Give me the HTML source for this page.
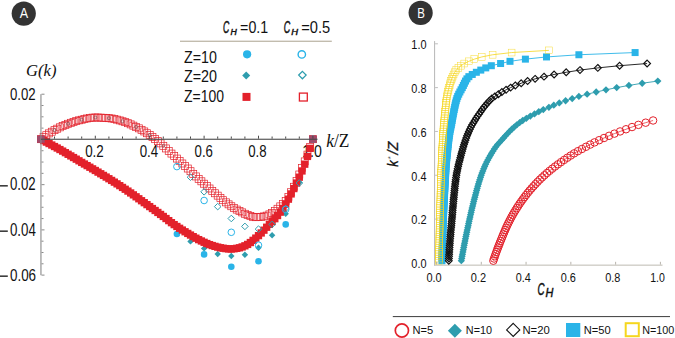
<!DOCTYPE html><html><head><meta charset="utf-8"><style>html,body{margin:0;padding:0;background:#fff;}svg{display:block;}</style></head><body><svg width="675" height="338" viewBox="0 0 675 338"><circle cx="23.75" cy="13.6" r="12.1" fill="#333"/>
<circle cx="420.65" cy="12.85" r="12.1" fill="#333"/>
<rect x="180" y="40.6" width="151.8" height="1.4" fill="#c2bcae"/>
<circle cx="247.1" cy="54.3" r="4.1" fill="#2ab4e8"/>
<circle cx="301.8" cy="54.4" r="3.7" fill="none" stroke="#2ab4e8" stroke-width="1.4"/>
<path d="M246.20 71.40L250.20 75.40L246.20 79.40L242.20 75.40Z" fill="#2e9dae"/>
<path d="M302.40 71.40L306.10 75.10L302.40 78.80L298.70 75.10Z" fill="none" stroke="#2e9dae" stroke-width="1.3"/>
<rect x="242.5" y="92.9" width="8" height="8" fill="#e3212b"/>
<rect x="299.4" y="93.1" width="7.9" height="7.9" fill="none" stroke="#e3212b" stroke-width="1.3"/>
<rect x="-0.5" y="185.20" width="8.3" height="1.3" fill="#111"/>
<rect x="-0.5" y="230.50" width="8.3" height="1.3" fill="#111"/>
<rect x="-0.5" y="275.50" width="8.3" height="1.3" fill="#111"/>
<text transform="matrix(0.12576 0 0 0.15217 19.800 18.400)" font-family="Liberation Sans" font-style="normal" font-weight="normal" font-size="100" fill="#fff">A</text>
<text transform="matrix(0.11509 0 0 0.14058 417.179 17.800)" font-family="Liberation Sans" font-style="normal" font-weight="normal" font-size="100" fill="#fff">B</text>
<text transform="matrix(0.08657 0 0 0.16901 222.881 32.631)" font-family="Liberation Sans" font-style="italic" font-weight="normal" font-size="100" fill="#111" stroke="#111" stroke-width="0.45" vector-effect="non-scaling-stroke">C</text>
<text transform="matrix(0.08696 0 0 0.09855 230.539 34.700)" font-family="Liberation Sans" font-style="italic" font-weight="normal" font-size="100" fill="#111" stroke="#111" stroke-width="0.45" vector-effect="non-scaling-stroke">H</text>
<text transform="matrix(0.14225 0 0 0.16901 240.089 32.631)" font-family="Liberation Sans" font-style="normal" font-weight="normal" font-size="100" fill="#111">=0.1</text>
<text transform="matrix(0.08955 0 0 0.16901 283.863 32.631)" font-family="Liberation Sans" font-style="italic" font-weight="normal" font-size="100" fill="#111" stroke="#111" stroke-width="0.45" vector-effect="non-scaling-stroke">C</text>
<text transform="matrix(0.09420 0 0 0.09420 291.217 34.700)" font-family="Liberation Sans" font-style="italic" font-weight="normal" font-size="100" fill="#111" stroke="#111" stroke-width="0.45" vector-effect="non-scaling-stroke">H</text>
<text transform="matrix(0.14681 0 0 0.16901 301.266 32.631)" font-family="Liberation Sans" font-style="normal" font-weight="normal" font-size="100" fill="#111">=0.5</text>
<text transform="matrix(0.14241 0 0 0.16197 183.973 62.538)" font-family="Liberation Sans" font-style="normal" font-weight="normal" font-size="100" fill="#111">Z=10</text>
<text transform="matrix(0.14330 0 0 0.16056 183.970 82.439)" font-family="Liberation Sans" font-style="normal" font-weight="normal" font-size="100" fill="#111">Z=20</text>
<text transform="matrix(0.13978 0 0 0.15775 183.981 102.142)" font-family="Liberation Sans" font-style="normal" font-weight="normal" font-size="100" fill="#111">Z=100</text>
<text transform="matrix(0.16609 0 0 0.16222 26.103 76.093)" font-family="Liberation Serif" font-style="italic" font-weight="normal" font-size="100" fill="#111">G(k)</text>
<text transform="matrix(0.13226 0 0 0.16761 9.971 99.532)" font-family="Liberation Sans" font-style="normal" font-weight="normal" font-size="100" fill="#111">0.02</text>
<text transform="matrix(0.13226 0 0 0.17465 9.971 190.425)" font-family="Liberation Sans" font-style="normal" font-weight="normal" font-size="100" fill="#111">0.02</text>
<text transform="matrix(0.13298 0 0 0.17606 9.968 235.724)" font-family="Liberation Sans" font-style="normal" font-weight="normal" font-size="100" fill="#111">0.04</text>
<text transform="matrix(0.13441 0 0 0.16901 9.962 280.731)" font-family="Liberation Sans" font-style="normal" font-weight="normal" font-size="100" fill="#111">0.06</text>
<text transform="matrix(0.13385 0 0 0.16901 85.165 156.731)" font-family="Liberation Sans" font-style="normal" font-weight="normal" font-size="100" fill="#111">0.2</text>
<text transform="matrix(0.13333 0 0 0.16901 139.667 156.731)" font-family="Liberation Sans" font-style="normal" font-weight="normal" font-size="100" fill="#111">0.4</text>
<text transform="matrix(0.13206 0 0 0.16901 194.572 156.731)" font-family="Liberation Sans" font-style="normal" font-weight="normal" font-size="100" fill="#111">0.6</text>
<text transform="matrix(0.13206 0 0 0.16901 248.172 156.731)" font-family="Liberation Sans" font-style="normal" font-weight="normal" font-size="100" fill="#111">0.8</text>
<text transform="matrix(0.14173 0 0 0.16901 302.166 156.731)" font-family="Liberation Sans" font-style="normal" font-weight="normal" font-size="100" fill="#111">1.0</text>
<text transform="matrix(0.17360 0 0 0.19286 326.279 147.007)" font-family="Liberation Serif" font-style="normal" font-weight="normal" font-size="100" fill="#111"><tspan font-style="italic">k</tspan>/Z</text>
<rect x="37.40" y="135.70" width="7.0" height="7.0" fill="none" stroke="#e3212b" stroke-width="0.7"/>
<rect x="40.12" y="133.64" width="7.0" height="7.0" fill="none" stroke="#e3212b" stroke-width="0.7"/>
<rect x="42.84" y="131.70" width="7.0" height="7.0" fill="none" stroke="#e3212b" stroke-width="0.7"/>
<rect x="45.56" y="129.89" width="7.0" height="7.0" fill="none" stroke="#e3212b" stroke-width="0.7"/>
<rect x="48.28" y="128.22" width="7.0" height="7.0" fill="none" stroke="#e3212b" stroke-width="0.7"/>
<rect x="51.00" y="126.65" width="7.0" height="7.0" fill="none" stroke="#e3212b" stroke-width="0.7"/>
<rect x="53.72" y="125.18" width="7.0" height="7.0" fill="none" stroke="#e3212b" stroke-width="0.7"/>
<rect x="56.44" y="123.83" width="7.0" height="7.0" fill="none" stroke="#e3212b" stroke-width="0.7"/>
<rect x="59.16" y="122.57" width="7.0" height="7.0" fill="none" stroke="#e3212b" stroke-width="0.7"/>
<rect x="61.88" y="121.38" width="7.0" height="7.0" fill="none" stroke="#e3212b" stroke-width="0.7"/>
<rect x="64.60" y="120.29" width="7.0" height="7.0" fill="none" stroke="#e3212b" stroke-width="0.7"/>
<rect x="67.32" y="119.31" width="7.0" height="7.0" fill="none" stroke="#e3212b" stroke-width="0.7"/>
<rect x="70.04" y="118.40" width="7.0" height="7.0" fill="none" stroke="#e3212b" stroke-width="0.7"/>
<rect x="72.76" y="117.57" width="7.0" height="7.0" fill="none" stroke="#e3212b" stroke-width="0.7"/>
<rect x="75.48" y="116.84" width="7.0" height="7.0" fill="none" stroke="#e3212b" stroke-width="0.7"/>
<rect x="78.20" y="116.21" width="7.0" height="7.0" fill="none" stroke="#e3212b" stroke-width="0.7"/>
<rect x="80.92" y="115.56" width="7.0" height="7.0" fill="none" stroke="#e3212b" stroke-width="0.7"/>
<rect x="83.64" y="114.95" width="7.0" height="7.0" fill="none" stroke="#e3212b" stroke-width="0.7"/>
<rect x="86.36" y="114.45" width="7.0" height="7.0" fill="none" stroke="#e3212b" stroke-width="0.7"/>
<rect x="89.08" y="114.11" width="7.0" height="7.0" fill="none" stroke="#e3212b" stroke-width="0.7"/>
<rect x="91.80" y="114.00" width="7.0" height="7.0" fill="none" stroke="#e3212b" stroke-width="0.7"/>
<rect x="94.52" y="114.04" width="7.0" height="7.0" fill="none" stroke="#e3212b" stroke-width="0.7"/>
<rect x="97.24" y="114.14" width="7.0" height="7.0" fill="none" stroke="#e3212b" stroke-width="0.7"/>
<rect x="99.96" y="114.29" width="7.0" height="7.0" fill="none" stroke="#e3212b" stroke-width="0.7"/>
<rect x="102.68" y="114.48" width="7.0" height="7.0" fill="none" stroke="#e3212b" stroke-width="0.7"/>
<rect x="105.40" y="114.70" width="7.0" height="7.0" fill="none" stroke="#e3212b" stroke-width="0.7"/>
<rect x="108.12" y="114.99" width="7.0" height="7.0" fill="none" stroke="#e3212b" stroke-width="0.7"/>
<rect x="110.84" y="115.47" width="7.0" height="7.0" fill="none" stroke="#e3212b" stroke-width="0.7"/>
<rect x="113.56" y="116.14" width="7.0" height="7.0" fill="none" stroke="#e3212b" stroke-width="0.7"/>
<rect x="116.28" y="116.92" width="7.0" height="7.0" fill="none" stroke="#e3212b" stroke-width="0.7"/>
<rect x="119.00" y="117.78" width="7.0" height="7.0" fill="none" stroke="#e3212b" stroke-width="0.7"/>
<rect x="121.72" y="118.67" width="7.0" height="7.0" fill="none" stroke="#e3212b" stroke-width="0.7"/>
<rect x="124.44" y="119.69" width="7.0" height="7.0" fill="none" stroke="#e3212b" stroke-width="0.7"/>
<rect x="127.16" y="120.88" width="7.0" height="7.0" fill="none" stroke="#e3212b" stroke-width="0.7"/>
<rect x="129.88" y="122.16" width="7.0" height="7.0" fill="none" stroke="#e3212b" stroke-width="0.7"/>
<rect x="132.60" y="123.46" width="7.0" height="7.0" fill="none" stroke="#e3212b" stroke-width="0.7"/>
<rect x="135.32" y="124.84" width="7.0" height="7.0" fill="none" stroke="#e3212b" stroke-width="0.7"/>
<rect x="138.04" y="126.33" width="7.0" height="7.0" fill="none" stroke="#e3212b" stroke-width="0.7"/>
<rect x="140.76" y="127.95" width="7.0" height="7.0" fill="none" stroke="#e3212b" stroke-width="0.7"/>
<rect x="143.48" y="129.74" width="7.0" height="7.0" fill="none" stroke="#e3212b" stroke-width="0.7"/>
<rect x="146.20" y="131.64" width="7.0" height="7.0" fill="none" stroke="#e3212b" stroke-width="0.7"/>
<rect x="148.92" y="133.59" width="7.0" height="7.0" fill="none" stroke="#e3212b" stroke-width="0.7"/>
<rect x="151.64" y="135.58" width="7.0" height="7.0" fill="none" stroke="#e3212b" stroke-width="0.7"/>
<rect x="154.36" y="137.65" width="7.0" height="7.0" fill="none" stroke="#e3212b" stroke-width="0.7"/>
<rect x="157.08" y="139.87" width="7.0" height="7.0" fill="none" stroke="#e3212b" stroke-width="0.7"/>
<rect x="159.80" y="142.32" width="7.0" height="7.0" fill="none" stroke="#e3212b" stroke-width="0.7"/>
<rect x="162.52" y="144.94" width="7.0" height="7.0" fill="none" stroke="#e3212b" stroke-width="0.7"/>
<rect x="165.24" y="147.55" width="7.0" height="7.0" fill="none" stroke="#e3212b" stroke-width="0.7"/>
<rect x="167.96" y="150.07" width="7.0" height="7.0" fill="none" stroke="#e3212b" stroke-width="0.7"/>
<rect x="170.68" y="152.58" width="7.0" height="7.0" fill="none" stroke="#e3212b" stroke-width="0.7"/>
<rect x="173.40" y="155.07" width="7.0" height="7.0" fill="none" stroke="#e3212b" stroke-width="0.7"/>
<rect x="176.12" y="157.54" width="7.0" height="7.0" fill="none" stroke="#e3212b" stroke-width="0.7"/>
<rect x="178.84" y="159.99" width="7.0" height="7.0" fill="none" stroke="#e3212b" stroke-width="0.7"/>
<rect x="181.56" y="162.47" width="7.0" height="7.0" fill="none" stroke="#e3212b" stroke-width="0.7"/>
<rect x="184.28" y="165.03" width="7.0" height="7.0" fill="none" stroke="#e3212b" stroke-width="0.7"/>
<rect x="187.00" y="167.71" width="7.0" height="7.0" fill="none" stroke="#e3212b" stroke-width="0.7"/>
<rect x="189.72" y="170.38" width="7.0" height="7.0" fill="none" stroke="#e3212b" stroke-width="0.7"/>
<rect x="192.44" y="172.93" width="7.0" height="7.0" fill="none" stroke="#e3212b" stroke-width="0.7"/>
<rect x="195.16" y="175.38" width="7.0" height="7.0" fill="none" stroke="#e3212b" stroke-width="0.7"/>
<rect x="197.88" y="177.80" width="7.0" height="7.0" fill="none" stroke="#e3212b" stroke-width="0.7"/>
<rect x="200.60" y="180.21" width="7.0" height="7.0" fill="none" stroke="#e3212b" stroke-width="0.7"/>
<rect x="203.32" y="182.60" width="7.0" height="7.0" fill="none" stroke="#e3212b" stroke-width="0.7"/>
<rect x="206.04" y="184.98" width="7.0" height="7.0" fill="none" stroke="#e3212b" stroke-width="0.7"/>
<rect x="208.76" y="187.35" width="7.0" height="7.0" fill="none" stroke="#e3212b" stroke-width="0.7"/>
<rect x="211.48" y="189.75" width="7.0" height="7.0" fill="none" stroke="#e3212b" stroke-width="0.7"/>
<rect x="214.20" y="192.14" width="7.0" height="7.0" fill="none" stroke="#e3212b" stroke-width="0.7"/>
<rect x="216.92" y="194.45" width="7.0" height="7.0" fill="none" stroke="#e3212b" stroke-width="0.7"/>
<rect x="219.64" y="196.70" width="7.0" height="7.0" fill="none" stroke="#e3212b" stroke-width="0.7"/>
<rect x="222.36" y="198.85" width="7.0" height="7.0" fill="none" stroke="#e3212b" stroke-width="0.7"/>
<rect x="225.08" y="200.85" width="7.0" height="7.0" fill="none" stroke="#e3212b" stroke-width="0.7"/>
<rect x="227.80" y="202.75" width="7.0" height="7.0" fill="none" stroke="#e3212b" stroke-width="0.7"/>
<rect x="230.52" y="204.51" width="7.0" height="7.0" fill="none" stroke="#e3212b" stroke-width="0.7"/>
<rect x="233.24" y="206.09" width="7.0" height="7.0" fill="none" stroke="#e3212b" stroke-width="0.7"/>
<rect x="235.96" y="207.53" width="7.0" height="7.0" fill="none" stroke="#e3212b" stroke-width="0.7"/>
<rect x="238.68" y="208.89" width="7.0" height="7.0" fill="none" stroke="#e3212b" stroke-width="0.7"/>
<rect x="241.40" y="210.29" width="7.0" height="7.0" fill="none" stroke="#e3212b" stroke-width="0.7"/>
<rect x="244.12" y="211.56" width="7.0" height="7.0" fill="none" stroke="#e3212b" stroke-width="0.7"/>
<rect x="246.84" y="212.51" width="7.0" height="7.0" fill="none" stroke="#e3212b" stroke-width="0.7"/>
<rect x="249.56" y="213.32" width="7.0" height="7.0" fill="none" stroke="#e3212b" stroke-width="0.7"/>
<rect x="252.28" y="213.70" width="7.0" height="7.0" fill="none" stroke="#e3212b" stroke-width="0.7"/>
<rect x="255.00" y="213.60" width="7.0" height="7.0" fill="none" stroke="#e3212b" stroke-width="0.7"/>
<rect x="257.72" y="213.32" width="7.0" height="7.0" fill="none" stroke="#e3212b" stroke-width="0.7"/>
<rect x="260.44" y="212.91" width="7.0" height="7.0" fill="none" stroke="#e3212b" stroke-width="0.7"/>
<rect x="263.16" y="212.14" width="7.0" height="7.0" fill="none" stroke="#e3212b" stroke-width="0.7"/>
<rect x="265.88" y="210.89" width="7.0" height="7.0" fill="none" stroke="#e3212b" stroke-width="0.7"/>
<rect x="268.60" y="209.40" width="7.0" height="7.0" fill="none" stroke="#e3212b" stroke-width="0.7"/>
<rect x="271.32" y="207.42" width="7.0" height="7.0" fill="none" stroke="#e3212b" stroke-width="0.7"/>
<rect x="274.04" y="205.27" width="7.0" height="7.0" fill="none" stroke="#e3212b" stroke-width="0.7"/>
<rect x="276.76" y="202.90" width="7.0" height="7.0" fill="none" stroke="#e3212b" stroke-width="0.7"/>
<rect x="279.48" y="200.40" width="7.0" height="7.0" fill="none" stroke="#e3212b" stroke-width="0.7"/>
<rect x="282.20" y="197.50" width="7.0" height="7.0" fill="none" stroke="#e3212b" stroke-width="0.7"/>
<rect x="284.92" y="193.47" width="7.0" height="7.0" fill="none" stroke="#e3212b" stroke-width="0.7"/>
<rect x="287.64" y="188.73" width="7.0" height="7.0" fill="none" stroke="#e3212b" stroke-width="0.7"/>
<rect x="290.36" y="183.28" width="7.0" height="7.0" fill="none" stroke="#e3212b" stroke-width="0.7"/>
<rect x="293.08" y="177.54" width="7.0" height="7.0" fill="none" stroke="#e3212b" stroke-width="0.7"/>
<rect x="295.80" y="171.00" width="7.0" height="7.0" fill="none" stroke="#e3212b" stroke-width="0.7"/>
<rect x="298.52" y="164.45" width="7.0" height="7.0" fill="none" stroke="#e3212b" stroke-width="0.7"/>
<rect x="301.24" y="157.90" width="7.0" height="7.0" fill="none" stroke="#e3212b" stroke-width="0.7"/>
<rect x="303.96" y="151.11" width="7.0" height="7.0" fill="none" stroke="#e3212b" stroke-width="0.7"/>
<rect x="306.68" y="143.56" width="7.0" height="7.0" fill="none" stroke="#e3212b" stroke-width="0.7"/>
<rect x="309.40" y="135.70" width="7.0" height="7.0" fill="none" stroke="#e3212b" stroke-width="0.7"/>
<path d="M54.50 143.62L57.70 146.82L54.50 150.02L51.30 146.82Z" fill="#2e9dae"/>
<path d="M68.10 151.40L71.30 154.60L68.10 157.80L64.90 154.60Z" fill="#2e9dae"/>
<path d="M81.70 159.51L84.90 162.71L81.70 165.91L78.50 162.71Z" fill="#2e9dae"/>
<path d="M95.30 167.58L98.50 170.78L95.30 173.98L92.10 170.78Z" fill="#2e9dae"/>
<path d="M108.90 175.83L112.10 179.03L108.90 182.23L105.70 179.03Z" fill="#2e9dae"/>
<path d="M122.50 184.53L125.70 187.73L122.50 190.93L119.30 187.73Z" fill="#2e9dae"/>
<path d="M136.10 193.91L139.30 197.11L136.10 200.31L132.90 197.11Z" fill="#2e9dae"/>
<path d="M149.70 203.68L152.90 206.88L149.70 210.08L146.50 206.88Z" fill="#2e9dae"/>
<path d="M163.30 213.75L166.50 216.95L163.30 220.15L160.10 216.95Z" fill="#2e9dae"/>
<path d="M176.90 224.28L180.10 227.48L176.90 230.68L173.70 227.48Z" fill="#2e9dae"/>
<path d="M190.50 238.20L193.70 241.40L190.50 244.60L187.30 241.40Z" fill="#2e9dae"/>
<path d="M204.10 245.20L207.30 248.40L204.10 251.60L200.90 248.40Z" fill="#2e9dae"/>
<path d="M217.70 250.80L220.90 254.00L217.70 257.20L214.50 254.00Z" fill="#2e9dae"/>
<path d="M231.30 252.80L234.50 256.00L231.30 259.20L228.10 256.00Z" fill="#2e9dae"/>
<path d="M244.90 251.60L248.10 254.80L244.90 258.00L241.70 254.80Z" fill="#2e9dae"/>
<path d="M258.50 244.60L261.70 247.80L258.50 251.00L255.30 247.80Z" fill="#2e9dae"/>
<path d="M272.10 232.00L275.30 235.20L272.10 238.40L268.90 235.20Z" fill="#2e9dae"/>
<path d="M285.70 210.60L288.90 213.80L285.70 217.00L282.50 213.80Z" fill="#2e9dae"/>
<path d="M299.30 179.20L302.50 182.40L299.30 185.60L296.10 182.40Z" fill="#2e9dae"/>
<path d="M312.90 136.00L316.10 139.20L312.90 142.40L309.70 139.20Z" fill="#2e9dae"/>
<circle cx="68.10" cy="154.80" r="3.3" fill="#2ab4e8"/>
<circle cx="95.30" cy="170.98" r="3.3" fill="#2ab4e8"/>
<circle cx="122.50" cy="187.93" r="3.3" fill="#2ab4e8"/>
<circle cx="149.70" cy="207.08" r="3.3" fill="#2ab4e8"/>
<circle cx="176.90" cy="234.00" r="3.3" fill="#2ab4e8"/>
<circle cx="204.10" cy="254.40" r="3.3" fill="#2ab4e8"/>
<circle cx="231.30" cy="266.80" r="3.3" fill="#2ab4e8"/>
<circle cx="258.50" cy="261.30" r="3.3" fill="#2ab4e8"/>
<circle cx="285.70" cy="224.40" r="3.3" fill="#2ab4e8"/>
<circle cx="312.90" cy="139.20" r="3.3" fill="#2ab4e8"/>
<rect x="37.25" y="135.55" width="7.3" height="7.3" fill="#e3212b"/>
<rect x="39.97" y="136.98" width="7.3" height="7.3" fill="#e3212b"/>
<rect x="42.69" y="138.44" width="7.3" height="7.3" fill="#e3212b"/>
<rect x="45.41" y="139.90" width="7.3" height="7.3" fill="#e3212b"/>
<rect x="48.13" y="141.38" width="7.3" height="7.3" fill="#e3212b"/>
<rect x="50.85" y="142.87" width="7.3" height="7.3" fill="#e3212b"/>
<rect x="53.57" y="144.38" width="7.3" height="7.3" fill="#e3212b"/>
<rect x="56.29" y="145.90" width="7.3" height="7.3" fill="#e3212b"/>
<rect x="59.01" y="147.46" width="7.3" height="7.3" fill="#e3212b"/>
<rect x="61.73" y="149.04" width="7.3" height="7.3" fill="#e3212b"/>
<rect x="64.45" y="150.65" width="7.3" height="7.3" fill="#e3212b"/>
<rect x="67.17" y="152.27" width="7.3" height="7.3" fill="#e3212b"/>
<rect x="69.89" y="153.89" width="7.3" height="7.3" fill="#e3212b"/>
<rect x="72.61" y="155.52" width="7.3" height="7.3" fill="#e3212b"/>
<rect x="75.33" y="157.14" width="7.3" height="7.3" fill="#e3212b"/>
<rect x="78.05" y="158.76" width="7.3" height="7.3" fill="#e3212b"/>
<rect x="80.77" y="160.36" width="7.3" height="7.3" fill="#e3212b"/>
<rect x="83.49" y="161.97" width="7.3" height="7.3" fill="#e3212b"/>
<rect x="86.21" y="163.58" width="7.3" height="7.3" fill="#e3212b"/>
<rect x="88.93" y="165.20" width="7.3" height="7.3" fill="#e3212b"/>
<rect x="91.65" y="166.83" width="7.3" height="7.3" fill="#e3212b"/>
<rect x="94.37" y="168.47" width="7.3" height="7.3" fill="#e3212b"/>
<rect x="97.09" y="170.11" width="7.3" height="7.3" fill="#e3212b"/>
<rect x="99.81" y="171.76" width="7.3" height="7.3" fill="#e3212b"/>
<rect x="102.53" y="173.41" width="7.3" height="7.3" fill="#e3212b"/>
<rect x="105.25" y="175.08" width="7.3" height="7.3" fill="#e3212b"/>
<rect x="107.97" y="176.77" width="7.3" height="7.3" fill="#e3212b"/>
<rect x="110.69" y="178.48" width="7.3" height="7.3" fill="#e3212b"/>
<rect x="113.41" y="180.22" width="7.3" height="7.3" fill="#e3212b"/>
<rect x="116.13" y="181.99" width="7.3" height="7.3" fill="#e3212b"/>
<rect x="118.85" y="183.78" width="7.3" height="7.3" fill="#e3212b"/>
<rect x="121.57" y="185.60" width="7.3" height="7.3" fill="#e3212b"/>
<rect x="124.29" y="187.44" width="7.3" height="7.3" fill="#e3212b"/>
<rect x="127.01" y="189.31" width="7.3" height="7.3" fill="#e3212b"/>
<rect x="129.73" y="191.21" width="7.3" height="7.3" fill="#e3212b"/>
<rect x="132.45" y="193.16" width="7.3" height="7.3" fill="#e3212b"/>
<rect x="135.17" y="195.12" width="7.3" height="7.3" fill="#e3212b"/>
<rect x="137.89" y="197.08" width="7.3" height="7.3" fill="#e3212b"/>
<rect x="140.61" y="199.04" width="7.3" height="7.3" fill="#e3212b"/>
<rect x="143.33" y="200.99" width="7.3" height="7.3" fill="#e3212b"/>
<rect x="146.05" y="202.93" width="7.3" height="7.3" fill="#e3212b"/>
<rect x="148.77" y="204.88" width="7.3" height="7.3" fill="#e3212b"/>
<rect x="151.49" y="206.84" width="7.3" height="7.3" fill="#e3212b"/>
<rect x="154.21" y="208.81" width="7.3" height="7.3" fill="#e3212b"/>
<rect x="156.93" y="210.79" width="7.3" height="7.3" fill="#e3212b"/>
<rect x="159.65" y="212.80" width="7.3" height="7.3" fill="#e3212b"/>
<rect x="162.37" y="214.87" width="7.3" height="7.3" fill="#e3212b"/>
<rect x="165.09" y="216.97" width="7.3" height="7.3" fill="#e3212b"/>
<rect x="167.81" y="219.02" width="7.3" height="7.3" fill="#e3212b"/>
<rect x="170.53" y="220.97" width="7.3" height="7.3" fill="#e3212b"/>
<rect x="173.25" y="222.83" width="7.3" height="7.3" fill="#e3212b"/>
<rect x="175.97" y="224.64" width="7.3" height="7.3" fill="#e3212b"/>
<rect x="178.69" y="226.40" width="7.3" height="7.3" fill="#e3212b"/>
<rect x="181.41" y="228.11" width="7.3" height="7.3" fill="#e3212b"/>
<rect x="184.13" y="229.77" width="7.3" height="7.3" fill="#e3212b"/>
<rect x="186.85" y="231.40" width="7.3" height="7.3" fill="#e3212b"/>
<rect x="189.57" y="233.00" width="7.3" height="7.3" fill="#e3212b"/>
<rect x="192.29" y="234.53" width="7.3" height="7.3" fill="#e3212b"/>
<rect x="195.01" y="235.98" width="7.3" height="7.3" fill="#e3212b"/>
<rect x="197.73" y="237.33" width="7.3" height="7.3" fill="#e3212b"/>
<rect x="200.45" y="238.64" width="7.3" height="7.3" fill="#e3212b"/>
<rect x="203.17" y="239.87" width="7.3" height="7.3" fill="#e3212b"/>
<rect x="205.89" y="240.97" width="7.3" height="7.3" fill="#e3212b"/>
<rect x="208.61" y="241.89" width="7.3" height="7.3" fill="#e3212b"/>
<rect x="211.33" y="242.72" width="7.3" height="7.3" fill="#e3212b"/>
<rect x="214.05" y="243.47" width="7.3" height="7.3" fill="#e3212b"/>
<rect x="216.77" y="244.10" width="7.3" height="7.3" fill="#e3212b"/>
<rect x="219.49" y="244.57" width="7.3" height="7.3" fill="#e3212b"/>
<rect x="222.21" y="244.96" width="7.3" height="7.3" fill="#e3212b"/>
<rect x="224.93" y="245.26" width="7.3" height="7.3" fill="#e3212b"/>
<rect x="227.65" y="245.34" width="7.3" height="7.3" fill="#e3212b"/>
<rect x="230.37" y="245.12" width="7.3" height="7.3" fill="#e3212b"/>
<rect x="233.09" y="244.68" width="7.3" height="7.3" fill="#e3212b"/>
<rect x="235.81" y="244.14" width="7.3" height="7.3" fill="#e3212b"/>
<rect x="238.53" y="243.29" width="7.3" height="7.3" fill="#e3212b"/>
<rect x="241.25" y="242.16" width="7.3" height="7.3" fill="#e3212b"/>
<rect x="243.97" y="240.77" width="7.3" height="7.3" fill="#e3212b"/>
<rect x="246.69" y="238.88" width="7.3" height="7.3" fill="#e3212b"/>
<rect x="249.41" y="236.71" width="7.3" height="7.3" fill="#e3212b"/>
<rect x="252.13" y="234.45" width="7.3" height="7.3" fill="#e3212b"/>
<rect x="254.85" y="231.96" width="7.3" height="7.3" fill="#e3212b"/>
<rect x="257.57" y="229.33" width="7.3" height="7.3" fill="#e3212b"/>
<rect x="260.29" y="226.53" width="7.3" height="7.3" fill="#e3212b"/>
<rect x="263.01" y="223.58" width="7.3" height="7.3" fill="#e3212b"/>
<rect x="265.73" y="220.72" width="7.3" height="7.3" fill="#e3212b"/>
<rect x="268.45" y="217.94" width="7.3" height="7.3" fill="#e3212b"/>
<rect x="271.17" y="215.04" width="7.3" height="7.3" fill="#e3212b"/>
<rect x="273.89" y="211.92" width="7.3" height="7.3" fill="#e3212b"/>
<rect x="276.61" y="208.51" width="7.3" height="7.3" fill="#e3212b"/>
<rect x="279.33" y="204.76" width="7.3" height="7.3" fill="#e3212b"/>
<rect x="282.05" y="200.55" width="7.3" height="7.3" fill="#e3212b"/>
<rect x="284.77" y="195.51" width="7.3" height="7.3" fill="#e3212b"/>
<rect x="287.49" y="190.27" width="7.3" height="7.3" fill="#e3212b"/>
<rect x="290.21" y="184.93" width="7.3" height="7.3" fill="#e3212b"/>
<rect x="292.93" y="179.39" width="7.3" height="7.3" fill="#e3212b"/>
<rect x="295.65" y="173.55" width="7.3" height="7.3" fill="#e3212b"/>
<rect x="298.37" y="167.30" width="7.3" height="7.3" fill="#e3212b"/>
<rect x="301.09" y="160.54" width="7.3" height="7.3" fill="#e3212b"/>
<rect x="303.81" y="152.77" width="7.3" height="7.3" fill="#e3212b"/>
<rect x="306.53" y="144.71" width="7.3" height="7.3" fill="#e3212b"/>
<rect x="309.25" y="135.55" width="7.3" height="7.3" fill="#e3212b"/>
<path d="M190.50 173.90L193.80 177.20L190.50 180.50L187.20 177.20Z" fill="none" stroke="#2e9dae" stroke-width="1.0"/>
<path d="M204.10 188.50L207.40 191.80L204.10 195.10L200.80 191.80Z" fill="none" stroke="#2e9dae" stroke-width="1.0"/>
<path d="M217.70 203.30L221.00 206.60L217.70 209.90L214.40 206.60Z" fill="none" stroke="#2e9dae" stroke-width="1.0"/>
<path d="M231.30 215.20L234.60 218.50L231.30 221.80L228.00 218.50Z" fill="none" stroke="#2e9dae" stroke-width="1.0"/>
<path d="M244.90 223.10L248.20 226.40L244.90 229.70L241.60 226.40Z" fill="none" stroke="#2e9dae" stroke-width="1.0"/>
<path d="M258.50 225.80L261.80 229.10L258.50 232.40L255.20 229.10Z" fill="none" stroke="#2e9dae" stroke-width="1.0"/>
<path d="M272.10 221.10L275.40 224.40L272.10 227.70L268.80 224.40Z" fill="none" stroke="#2e9dae" stroke-width="1.0"/>
<path d="M285.70 205.20L289.00 208.50L285.70 211.80L282.40 208.50Z" fill="none" stroke="#2e9dae" stroke-width="1.0"/>
<path d="M299.30 179.70L302.60 183.00L299.30 186.30L296.00 183.00Z" fill="none" stroke="#2e9dae" stroke-width="1.0"/>
<path d="M312.90 135.90L316.20 139.20L312.90 142.50L309.60 139.20Z" fill="none" stroke="#2e9dae" stroke-width="1.0"/>
<circle cx="176.90" cy="166.60" r="3.3" fill="none" stroke="#2ab4e8" stroke-width="1"/>
<circle cx="204.10" cy="200.50" r="3.3" fill="none" stroke="#2ab4e8" stroke-width="1"/>
<circle cx="231.30" cy="232.30" r="3.3" fill="none" stroke="#2ab4e8" stroke-width="1"/>
<circle cx="258.50" cy="245.20" r="3.3" fill="none" stroke="#2ab4e8" stroke-width="1"/>
<circle cx="285.70" cy="209.40" r="3.3" fill="none" stroke="#2ab4e8" stroke-width="1"/>
<circle cx="312.90" cy="139.20" r="3.3" fill="none" stroke="#2ab4e8" stroke-width="1"/>
<circle cx="68.10" cy="123.79" r="1.5" fill="none" stroke="#8a5a60" stroke-width="0.8"/>
<circle cx="95.30" cy="117.50" r="1.5" fill="none" stroke="#8a5a60" stroke-width="0.8"/>
<circle cx="122.50" cy="121.28" r="1.5" fill="none" stroke="#8a5a60" stroke-width="0.8"/>
<circle cx="149.70" cy="135.14" r="1.5" fill="none" stroke="#8a5a60" stroke-width="0.8"/>
<circle cx="54.50" cy="130.15" r="1.5" fill="none" stroke="#8a5a60" stroke-width="0.8"/>
<circle cx="81.70" cy="119.71" r="1.5" fill="none" stroke="#8a5a60" stroke-width="0.8"/>
<circle cx="108.90" cy="118.20" r="1.5" fill="none" stroke="#8a5a60" stroke-width="0.8"/>
<circle cx="136.10" cy="126.96" r="1.5" fill="none" stroke="#8a5a60" stroke-width="0.8"/>
<circle cx="163.30" cy="145.82" r="1.5" fill="none" stroke="#8a5a60" stroke-width="0.8"/>
<rect x="37.10" y="135.60" width="7.6" height="7.2" fill="#a04a6a"/>
<rect x="309.10" y="135.60" width="7.6" height="7.2" fill="#a04a6a"/>
<rect x="40.4" y="94.2" width="1.1" height="181" fill="#8a8a8a"/>
<rect x="41.5" y="93.70" width="3.0" height="1" fill="#8a8a8a"/>
<rect x="41.5" y="105.01" width="2.0" height="1" fill="#8a8a8a"/>
<rect x="41.5" y="116.31" width="2.0" height="1" fill="#8a8a8a"/>
<rect x="41.5" y="127.62" width="2.0" height="1" fill="#8a8a8a"/>
<rect x="41.5" y="138.93" width="3.0" height="1" fill="#8a8a8a"/>
<rect x="41.5" y="150.23" width="2.0" height="1" fill="#8a8a8a"/>
<rect x="41.5" y="161.54" width="2.0" height="1" fill="#8a8a8a"/>
<rect x="41.5" y="172.84" width="2.0" height="1" fill="#8a8a8a"/>
<rect x="41.5" y="184.15" width="3.0" height="1" fill="#8a8a8a"/>
<rect x="41.5" y="195.46" width="2.0" height="1" fill="#8a8a8a"/>
<rect x="41.5" y="206.76" width="2.0" height="1" fill="#8a8a8a"/>
<rect x="41.5" y="218.07" width="2.0" height="1" fill="#8a8a8a"/>
<rect x="41.5" y="229.38" width="3.0" height="1" fill="#8a8a8a"/>
<rect x="41.5" y="240.68" width="2.0" height="1" fill="#8a8a8a"/>
<rect x="41.5" y="251.99" width="2.0" height="1" fill="#8a8a8a"/>
<rect x="41.5" y="263.29" width="2.0" height="1" fill="#8a8a8a"/>
<rect x="41.5" y="274.60" width="3.0" height="1" fill="#8a8a8a"/>
<rect x="40.9" y="138.7" width="276.6" height="1.1" fill="#4a4a4a"/>
<rect x="54.00" y="136.50" width="1" height="2.2" fill="#4a4a4a"/>
<rect x="67.60" y="136.50" width="1" height="2.2" fill="#4a4a4a"/>
<rect x="81.20" y="136.50" width="1" height="2.2" fill="#4a4a4a"/>
<rect x="94.80" y="135.70" width="1" height="3.0" fill="#4a4a4a"/>
<rect x="108.40" y="136.50" width="1" height="2.2" fill="#4a4a4a"/>
<rect x="122.00" y="136.50" width="1" height="2.2" fill="#4a4a4a"/>
<rect x="135.60" y="136.50" width="1" height="2.2" fill="#4a4a4a"/>
<rect x="149.20" y="135.70" width="1" height="3.0" fill="#4a4a4a"/>
<rect x="162.80" y="136.50" width="1" height="2.2" fill="#4a4a4a"/>
<rect x="176.40" y="136.50" width="1" height="2.2" fill="#4a4a4a"/>
<rect x="190.00" y="136.50" width="1" height="2.2" fill="#4a4a4a"/>
<rect x="203.60" y="135.70" width="1" height="3.0" fill="#4a4a4a"/>
<rect x="217.20" y="136.50" width="1" height="2.2" fill="#4a4a4a"/>
<rect x="230.80" y="136.50" width="1" height="2.2" fill="#4a4a4a"/>
<rect x="244.40" y="136.50" width="1" height="2.2" fill="#4a4a4a"/>
<rect x="258.00" y="135.70" width="1" height="3.0" fill="#4a4a4a"/>
<rect x="271.60" y="136.50" width="1" height="2.2" fill="#4a4a4a"/>
<rect x="285.20" y="136.50" width="1" height="2.2" fill="#4a4a4a"/>
<rect x="298.80" y="136.50" width="1" height="2.2" fill="#4a4a4a"/>
<rect x="312.40" y="135.70" width="1" height="3.0" fill="#4a4a4a"/>
<rect x="434.0" y="41.1" width="1.1" height="224.4" fill="#bdbdbd"/>
<rect x="435.1" y="262.40" width="2.8" height="1" fill="#bdbdbd"/>
<rect x="435.1" y="218.58" width="2.8" height="1" fill="#bdbdbd"/>
<rect x="435.1" y="174.76" width="2.8" height="1" fill="#bdbdbd"/>
<rect x="435.1" y="130.94" width="2.8" height="1" fill="#bdbdbd"/>
<rect x="435.1" y="87.12" width="2.8" height="1" fill="#bdbdbd"/>
<rect x="435.1" y="43.30" width="2.8" height="1" fill="#bdbdbd"/>
<rect x="434.0" y="264.6" width="228.5" height="1.1" fill="#c4c0b8"/>
<rect x="436.00" y="261.8" width="1" height="2.8" fill="#b8b4ac"/>
<rect x="480.78" y="261.8" width="1" height="2.8" fill="#b8b4ac"/>
<rect x="525.56" y="261.8" width="1" height="2.8" fill="#b8b4ac"/>
<rect x="570.34" y="261.8" width="1" height="2.8" fill="#b8b4ac"/>
<rect x="615.12" y="261.8" width="1" height="2.8" fill="#b8b4ac"/>
<rect x="659.90" y="261.8" width="1" height="2.8" fill="#b8b4ac"/>
<polyline points="441.99,260.71 442.04,258.52 442.10,256.33 442.15,254.14 442.21,251.94 442.27,249.75 442.33,247.56 442.40,245.37 442.46,243.18 442.53,240.99 442.60,238.80 442.68,236.61 442.76,234.42 442.84,232.23 442.92,230.03 443.00,227.84 443.09,225.65 443.18,223.46 443.26,221.27 443.35,219.08 443.45,216.89 443.54,214.70 443.64,212.51 443.74,210.32 443.84,208.12 443.94,205.93 444.04,203.74 444.15,201.55 444.26,199.36 444.37,197.17 444.48,194.98 444.59,192.79 444.71,190.60 444.83,188.41 444.95,186.21 445.07,184.02 445.19,181.83 445.32,179.64 445.45,177.45 445.57,175.26 445.69,173.07 445.82,170.88 445.95,168.69 446.09,166.50 446.25,164.30 446.44,162.11 446.64,159.92 446.86,157.73 447.09,155.54 447.32,153.35 447.55,151.16 447.77,148.97 448.00,146.78 448.24,144.59 448.49,142.39 448.74,140.20 449.02,138.01 449.31,135.82 449.63,133.63 449.98,131.44 450.41,129.25 450.88,127.06 451.33,124.87 451.74,122.68 452.13,120.48 452.52,118.29 452.92,116.10 453.32,113.91 453.75,111.72 454.20,109.53 454.66,107.34 455.13,105.15 455.64,102.96 456.21,100.77 456.87,98.57 457.71,96.38 458.73,94.19 459.87,92.00 461.07,89.81 462.27,87.62 463.39,85.43 464.41,83.24 465.53,81.05 466.93,78.86 468.87,76.66 472.25,74.47 476.35,72.28 480.79,70.09 485.77,67.90 491.33,65.71 500.60,63.52 510.00,61.33 525.40,59.14 546.50,56.95 578.90,54.75 635.10,52.56" fill="none" stroke="#2ab4e8" stroke-width="0.9"/>
<rect x="438.49" y="257.21" width="7" height="7" fill="#2ab4e8"/>
<rect x="438.54" y="255.02" width="7" height="7" fill="#2ab4e8"/>
<rect x="438.60" y="252.83" width="7" height="7" fill="#2ab4e8"/>
<rect x="438.65" y="250.64" width="7" height="7" fill="#2ab4e8"/>
<rect x="438.71" y="248.44" width="7" height="7" fill="#2ab4e8"/>
<rect x="438.77" y="246.25" width="7" height="7" fill="#2ab4e8"/>
<rect x="438.83" y="244.06" width="7" height="7" fill="#2ab4e8"/>
<rect x="438.90" y="241.87" width="7" height="7" fill="#2ab4e8"/>
<rect x="438.96" y="239.68" width="7" height="7" fill="#2ab4e8"/>
<rect x="439.03" y="237.49" width="7" height="7" fill="#2ab4e8"/>
<rect x="439.10" y="235.30" width="7" height="7" fill="#2ab4e8"/>
<rect x="439.18" y="233.11" width="7" height="7" fill="#2ab4e8"/>
<rect x="439.26" y="230.92" width="7" height="7" fill="#2ab4e8"/>
<rect x="439.34" y="228.73" width="7" height="7" fill="#2ab4e8"/>
<rect x="439.42" y="226.53" width="7" height="7" fill="#2ab4e8"/>
<rect x="439.50" y="224.34" width="7" height="7" fill="#2ab4e8"/>
<rect x="439.59" y="222.15" width="7" height="7" fill="#2ab4e8"/>
<rect x="439.68" y="219.96" width="7" height="7" fill="#2ab4e8"/>
<rect x="439.76" y="217.77" width="7" height="7" fill="#2ab4e8"/>
<rect x="439.85" y="215.58" width="7" height="7" fill="#2ab4e8"/>
<rect x="439.95" y="213.39" width="7" height="7" fill="#2ab4e8"/>
<rect x="440.04" y="211.20" width="7" height="7" fill="#2ab4e8"/>
<rect x="440.14" y="209.01" width="7" height="7" fill="#2ab4e8"/>
<rect x="440.24" y="206.82" width="7" height="7" fill="#2ab4e8"/>
<rect x="440.34" y="204.62" width="7" height="7" fill="#2ab4e8"/>
<rect x="440.44" y="202.43" width="7" height="7" fill="#2ab4e8"/>
<rect x="440.54" y="200.24" width="7" height="7" fill="#2ab4e8"/>
<rect x="440.65" y="198.05" width="7" height="7" fill="#2ab4e8"/>
<rect x="440.76" y="195.86" width="7" height="7" fill="#2ab4e8"/>
<rect x="440.87" y="193.67" width="7" height="7" fill="#2ab4e8"/>
<rect x="440.98" y="191.48" width="7" height="7" fill="#2ab4e8"/>
<rect x="441.09" y="189.29" width="7" height="7" fill="#2ab4e8"/>
<rect x="441.21" y="187.10" width="7" height="7" fill="#2ab4e8"/>
<rect x="441.33" y="184.91" width="7" height="7" fill="#2ab4e8"/>
<rect x="441.45" y="182.71" width="7" height="7" fill="#2ab4e8"/>
<rect x="441.57" y="180.52" width="7" height="7" fill="#2ab4e8"/>
<rect x="441.69" y="178.33" width="7" height="7" fill="#2ab4e8"/>
<rect x="441.82" y="176.14" width="7" height="7" fill="#2ab4e8"/>
<rect x="441.95" y="173.95" width="7" height="7" fill="#2ab4e8"/>
<rect x="442.07" y="171.76" width="7" height="7" fill="#2ab4e8"/>
<rect x="442.19" y="169.57" width="7" height="7" fill="#2ab4e8"/>
<rect x="442.32" y="167.38" width="7" height="7" fill="#2ab4e8"/>
<rect x="442.45" y="165.19" width="7" height="7" fill="#2ab4e8"/>
<rect x="442.59" y="163.00" width="7" height="7" fill="#2ab4e8"/>
<rect x="442.75" y="160.80" width="7" height="7" fill="#2ab4e8"/>
<rect x="442.94" y="158.61" width="7" height="7" fill="#2ab4e8"/>
<rect x="443.14" y="156.42" width="7" height="7" fill="#2ab4e8"/>
<rect x="443.36" y="154.23" width="7" height="7" fill="#2ab4e8"/>
<rect x="443.59" y="152.04" width="7" height="7" fill="#2ab4e8"/>
<rect x="443.82" y="149.85" width="7" height="7" fill="#2ab4e8"/>
<rect x="444.05" y="147.66" width="7" height="7" fill="#2ab4e8"/>
<rect x="444.27" y="145.47" width="7" height="7" fill="#2ab4e8"/>
<rect x="444.50" y="143.28" width="7" height="7" fill="#2ab4e8"/>
<rect x="444.74" y="141.09" width="7" height="7" fill="#2ab4e8"/>
<rect x="444.99" y="138.89" width="7" height="7" fill="#2ab4e8"/>
<rect x="445.24" y="136.70" width="7" height="7" fill="#2ab4e8"/>
<rect x="445.52" y="134.51" width="7" height="7" fill="#2ab4e8"/>
<rect x="445.81" y="132.32" width="7" height="7" fill="#2ab4e8"/>
<rect x="446.13" y="130.13" width="7" height="7" fill="#2ab4e8"/>
<rect x="446.48" y="127.94" width="7" height="7" fill="#2ab4e8"/>
<rect x="446.91" y="125.75" width="7" height="7" fill="#2ab4e8"/>
<rect x="447.38" y="123.56" width="7" height="7" fill="#2ab4e8"/>
<rect x="447.83" y="121.37" width="7" height="7" fill="#2ab4e8"/>
<rect x="448.24" y="119.18" width="7" height="7" fill="#2ab4e8"/>
<rect x="448.63" y="116.98" width="7" height="7" fill="#2ab4e8"/>
<rect x="449.02" y="114.79" width="7" height="7" fill="#2ab4e8"/>
<rect x="449.42" y="112.60" width="7" height="7" fill="#2ab4e8"/>
<rect x="449.82" y="110.41" width="7" height="7" fill="#2ab4e8"/>
<rect x="450.25" y="108.22" width="7" height="7" fill="#2ab4e8"/>
<rect x="450.70" y="106.03" width="7" height="7" fill="#2ab4e8"/>
<rect x="451.16" y="103.84" width="7" height="7" fill="#2ab4e8"/>
<rect x="451.63" y="101.65" width="7" height="7" fill="#2ab4e8"/>
<rect x="452.14" y="99.46" width="7" height="7" fill="#2ab4e8"/>
<rect x="452.71" y="97.27" width="7" height="7" fill="#2ab4e8"/>
<rect x="453.37" y="95.07" width="7" height="7" fill="#2ab4e8"/>
<rect x="454.21" y="92.88" width="7" height="7" fill="#2ab4e8"/>
<rect x="455.23" y="90.69" width="7" height="7" fill="#2ab4e8"/>
<rect x="456.37" y="88.50" width="7" height="7" fill="#2ab4e8"/>
<rect x="457.57" y="86.31" width="7" height="7" fill="#2ab4e8"/>
<rect x="458.77" y="84.12" width="7" height="7" fill="#2ab4e8"/>
<rect x="459.89" y="81.93" width="7" height="7" fill="#2ab4e8"/>
<rect x="460.91" y="79.74" width="7" height="7" fill="#2ab4e8"/>
<rect x="462.03" y="77.55" width="7" height="7" fill="#2ab4e8"/>
<rect x="463.43" y="75.36" width="7" height="7" fill="#2ab4e8"/>
<rect x="465.37" y="73.16" width="7" height="7" fill="#2ab4e8"/>
<rect x="468.75" y="70.97" width="7" height="7" fill="#2ab4e8"/>
<rect x="472.85" y="68.78" width="7" height="7" fill="#2ab4e8"/>
<rect x="477.29" y="66.59" width="7" height="7" fill="#2ab4e8"/>
<rect x="482.27" y="64.40" width="7" height="7" fill="#2ab4e8"/>
<rect x="487.83" y="62.21" width="7" height="7" fill="#2ab4e8"/>
<rect x="497.10" y="60.02" width="7" height="7" fill="#2ab4e8"/>
<rect x="506.50" y="57.83" width="7" height="7" fill="#2ab4e8"/>
<rect x="521.90" y="55.64" width="7" height="7" fill="#2ab4e8"/>
<rect x="543.00" y="53.45" width="7" height="7" fill="#2ab4e8"/>
<rect x="575.40" y="51.25" width="7" height="7" fill="#2ab4e8"/>
<rect x="631.60" y="49.06" width="7" height="7" fill="#2ab4e8"/>
<polyline points="439.00,260.71 439.03,258.52 439.06,256.33 439.09,254.14 439.12,251.94 439.16,249.75 439.20,247.56 439.24,245.37 439.28,243.18 439.32,240.99 439.36,238.80 439.41,236.61 439.46,234.42 439.51,232.23 439.56,230.03 439.61,227.84 439.67,225.65 439.72,223.46 439.78,221.27 439.83,219.08 439.89,216.89 439.95,214.70 440.01,212.51 440.07,210.32 440.13,208.12 440.19,205.93 440.25,203.74 440.32,201.55 440.38,199.36 440.44,197.17 440.49,194.98 440.55,192.79 440.60,190.60 440.66,188.41 440.71,186.21 440.77,184.02 440.83,181.83 440.90,179.64 440.97,177.45 441.04,175.26 441.13,173.07 441.23,170.88 441.33,168.69 441.43,166.50 441.53,164.30 441.63,162.11 441.74,159.92 441.84,157.73 441.95,155.54 442.06,153.35 442.17,151.16 442.28,148.97 442.39,146.78 442.50,144.59 442.61,142.39 442.73,140.20 442.86,138.01 442.99,135.82 443.13,133.63 443.27,131.44 443.44,129.25 443.62,127.06 443.81,124.87 444.02,122.68 444.23,120.48 444.46,118.29 444.69,116.10 444.93,113.91 445.17,111.72 445.40,109.53 445.62,107.34 445.84,105.15 446.07,102.96 446.33,100.77 446.63,98.57 447.00,96.38 447.43,94.19 447.92,92.00 448.45,89.81 449.03,87.62 449.64,85.43 450.27,83.24 450.95,81.05 451.71,78.86 452.58,76.66 453.58,74.47 454.75,72.28 456.30,70.09 458.40,67.90 461.00,65.71 464.27,63.52 468.80,61.33 474.30,59.14 481.70,56.95 492.60,54.75 511.60,52.56 548.90,50.37" fill="none" stroke="#f5d61e" stroke-width="0.8"/>
<rect x="435.60" y="257.31" width="6.8" height="6.8" fill="none" stroke="#f5d61e" stroke-width="0.45"/>
<rect x="435.63" y="255.12" width="6.8" height="6.8" fill="none" stroke="#f5d61e" stroke-width="0.45"/>
<rect x="435.66" y="252.93" width="6.8" height="6.8" fill="none" stroke="#f5d61e" stroke-width="0.45"/>
<rect x="435.69" y="250.74" width="6.8" height="6.8" fill="none" stroke="#f5d61e" stroke-width="0.45"/>
<rect x="435.72" y="248.54" width="6.8" height="6.8" fill="none" stroke="#f5d61e" stroke-width="0.45"/>
<rect x="435.76" y="246.35" width="6.8" height="6.8" fill="none" stroke="#f5d61e" stroke-width="0.45"/>
<rect x="435.80" y="244.16" width="6.8" height="6.8" fill="none" stroke="#f5d61e" stroke-width="0.45"/>
<rect x="435.84" y="241.97" width="6.8" height="6.8" fill="none" stroke="#f5d61e" stroke-width="0.45"/>
<rect x="435.88" y="239.78" width="6.8" height="6.8" fill="none" stroke="#f5d61e" stroke-width="0.45"/>
<rect x="435.92" y="237.59" width="6.8" height="6.8" fill="none" stroke="#f5d61e" stroke-width="0.45"/>
<rect x="435.96" y="235.40" width="6.8" height="6.8" fill="none" stroke="#f5d61e" stroke-width="0.45"/>
<rect x="436.01" y="233.21" width="6.8" height="6.8" fill="none" stroke="#f5d61e" stroke-width="0.45"/>
<rect x="436.06" y="231.02" width="6.8" height="6.8" fill="none" stroke="#f5d61e" stroke-width="0.45"/>
<rect x="436.11" y="228.83" width="6.8" height="6.8" fill="none" stroke="#f5d61e" stroke-width="0.45"/>
<rect x="436.16" y="226.63" width="6.8" height="6.8" fill="none" stroke="#f5d61e" stroke-width="0.45"/>
<rect x="436.21" y="224.44" width="6.8" height="6.8" fill="none" stroke="#f5d61e" stroke-width="0.45"/>
<rect x="436.27" y="222.25" width="6.8" height="6.8" fill="none" stroke="#f5d61e" stroke-width="0.45"/>
<rect x="436.32" y="220.06" width="6.8" height="6.8" fill="none" stroke="#f5d61e" stroke-width="0.45"/>
<rect x="436.38" y="217.87" width="6.8" height="6.8" fill="none" stroke="#f5d61e" stroke-width="0.45"/>
<rect x="436.43" y="215.68" width="6.8" height="6.8" fill="none" stroke="#f5d61e" stroke-width="0.45"/>
<rect x="436.49" y="213.49" width="6.8" height="6.8" fill="none" stroke="#f5d61e" stroke-width="0.45"/>
<rect x="436.55" y="211.30" width="6.8" height="6.8" fill="none" stroke="#f5d61e" stroke-width="0.45"/>
<rect x="436.61" y="209.11" width="6.8" height="6.8" fill="none" stroke="#f5d61e" stroke-width="0.45"/>
<rect x="436.67" y="206.92" width="6.8" height="6.8" fill="none" stroke="#f5d61e" stroke-width="0.45"/>
<rect x="436.73" y="204.72" width="6.8" height="6.8" fill="none" stroke="#f5d61e" stroke-width="0.45"/>
<rect x="436.79" y="202.53" width="6.8" height="6.8" fill="none" stroke="#f5d61e" stroke-width="0.45"/>
<rect x="436.85" y="200.34" width="6.8" height="6.8" fill="none" stroke="#f5d61e" stroke-width="0.45"/>
<rect x="436.92" y="198.15" width="6.8" height="6.8" fill="none" stroke="#f5d61e" stroke-width="0.45"/>
<rect x="436.98" y="195.96" width="6.8" height="6.8" fill="none" stroke="#f5d61e" stroke-width="0.45"/>
<rect x="437.04" y="193.77" width="6.8" height="6.8" fill="none" stroke="#f5d61e" stroke-width="0.45"/>
<rect x="437.09" y="191.58" width="6.8" height="6.8" fill="none" stroke="#f5d61e" stroke-width="0.45"/>
<rect x="437.15" y="189.39" width="6.8" height="6.8" fill="none" stroke="#f5d61e" stroke-width="0.45"/>
<rect x="437.20" y="187.20" width="6.8" height="6.8" fill="none" stroke="#f5d61e" stroke-width="0.45"/>
<rect x="437.26" y="185.01" width="6.8" height="6.8" fill="none" stroke="#f5d61e" stroke-width="0.45"/>
<rect x="437.31" y="182.81" width="6.8" height="6.8" fill="none" stroke="#f5d61e" stroke-width="0.45"/>
<rect x="437.37" y="180.62" width="6.8" height="6.8" fill="none" stroke="#f5d61e" stroke-width="0.45"/>
<rect x="437.43" y="178.43" width="6.8" height="6.8" fill="none" stroke="#f5d61e" stroke-width="0.45"/>
<rect x="437.50" y="176.24" width="6.8" height="6.8" fill="none" stroke="#f5d61e" stroke-width="0.45"/>
<rect x="437.57" y="174.05" width="6.8" height="6.8" fill="none" stroke="#f5d61e" stroke-width="0.45"/>
<rect x="437.64" y="171.86" width="6.8" height="6.8" fill="none" stroke="#f5d61e" stroke-width="0.45"/>
<rect x="437.73" y="169.67" width="6.8" height="6.8" fill="none" stroke="#f5d61e" stroke-width="0.45"/>
<rect x="437.83" y="167.48" width="6.8" height="6.8" fill="none" stroke="#f5d61e" stroke-width="0.45"/>
<rect x="437.93" y="165.29" width="6.8" height="6.8" fill="none" stroke="#f5d61e" stroke-width="0.45"/>
<rect x="438.03" y="163.10" width="6.8" height="6.8" fill="none" stroke="#f5d61e" stroke-width="0.45"/>
<rect x="438.13" y="160.90" width="6.8" height="6.8" fill="none" stroke="#f5d61e" stroke-width="0.45"/>
<rect x="438.23" y="158.71" width="6.8" height="6.8" fill="none" stroke="#f5d61e" stroke-width="0.45"/>
<rect x="438.34" y="156.52" width="6.8" height="6.8" fill="none" stroke="#f5d61e" stroke-width="0.45"/>
<rect x="438.44" y="154.33" width="6.8" height="6.8" fill="none" stroke="#f5d61e" stroke-width="0.45"/>
<rect x="438.55" y="152.14" width="6.8" height="6.8" fill="none" stroke="#f5d61e" stroke-width="0.45"/>
<rect x="438.66" y="149.95" width="6.8" height="6.8" fill="none" stroke="#f5d61e" stroke-width="0.45"/>
<rect x="438.77" y="147.76" width="6.8" height="6.8" fill="none" stroke="#f5d61e" stroke-width="0.45"/>
<rect x="438.88" y="145.57" width="6.8" height="6.8" fill="none" stroke="#f5d61e" stroke-width="0.45"/>
<rect x="438.99" y="143.38" width="6.8" height="6.8" fill="none" stroke="#f5d61e" stroke-width="0.45"/>
<rect x="439.10" y="141.19" width="6.8" height="6.8" fill="none" stroke="#f5d61e" stroke-width="0.45"/>
<rect x="439.21" y="138.99" width="6.8" height="6.8" fill="none" stroke="#f5d61e" stroke-width="0.45"/>
<rect x="439.33" y="136.80" width="6.8" height="6.8" fill="none" stroke="#f5d61e" stroke-width="0.45"/>
<rect x="439.46" y="134.61" width="6.8" height="6.8" fill="none" stroke="#f5d61e" stroke-width="0.45"/>
<rect x="439.59" y="132.42" width="6.8" height="6.8" fill="none" stroke="#f5d61e" stroke-width="0.45"/>
<rect x="439.73" y="130.23" width="6.8" height="6.8" fill="none" stroke="#f5d61e" stroke-width="0.45"/>
<rect x="439.87" y="128.04" width="6.8" height="6.8" fill="none" stroke="#f5d61e" stroke-width="0.45"/>
<rect x="440.04" y="125.85" width="6.8" height="6.8" fill="none" stroke="#f5d61e" stroke-width="0.45"/>
<rect x="440.22" y="123.66" width="6.8" height="6.8" fill="none" stroke="#f5d61e" stroke-width="0.45"/>
<rect x="440.41" y="121.47" width="6.8" height="6.8" fill="none" stroke="#f5d61e" stroke-width="0.45"/>
<rect x="440.62" y="119.28" width="6.8" height="6.8" fill="none" stroke="#f5d61e" stroke-width="0.45"/>
<rect x="440.83" y="117.08" width="6.8" height="6.8" fill="none" stroke="#f5d61e" stroke-width="0.45"/>
<rect x="441.06" y="114.89" width="6.8" height="6.8" fill="none" stroke="#f5d61e" stroke-width="0.45"/>
<rect x="441.29" y="112.70" width="6.8" height="6.8" fill="none" stroke="#f5d61e" stroke-width="0.45"/>
<rect x="441.53" y="110.51" width="6.8" height="6.8" fill="none" stroke="#f5d61e" stroke-width="0.45"/>
<rect x="441.77" y="108.32" width="6.8" height="6.8" fill="none" stroke="#f5d61e" stroke-width="0.45"/>
<rect x="442.00" y="106.13" width="6.8" height="6.8" fill="none" stroke="#f5d61e" stroke-width="0.45"/>
<rect x="442.22" y="103.94" width="6.8" height="6.8" fill="none" stroke="#f5d61e" stroke-width="0.45"/>
<rect x="442.44" y="101.75" width="6.8" height="6.8" fill="none" stroke="#f5d61e" stroke-width="0.45"/>
<rect x="442.67" y="99.56" width="6.8" height="6.8" fill="none" stroke="#f5d61e" stroke-width="0.45"/>
<rect x="442.93" y="97.37" width="6.8" height="6.8" fill="none" stroke="#f5d61e" stroke-width="0.45"/>
<rect x="443.23" y="95.17" width="6.8" height="6.8" fill="none" stroke="#f5d61e" stroke-width="0.45"/>
<rect x="443.60" y="92.98" width="6.8" height="6.8" fill="none" stroke="#f5d61e" stroke-width="0.45"/>
<rect x="444.03" y="90.79" width="6.8" height="6.8" fill="none" stroke="#f5d61e" stroke-width="0.45"/>
<rect x="444.52" y="88.60" width="6.8" height="6.8" fill="none" stroke="#f5d61e" stroke-width="0.45"/>
<rect x="445.05" y="86.41" width="6.8" height="6.8" fill="none" stroke="#f5d61e" stroke-width="0.45"/>
<rect x="445.63" y="84.22" width="6.8" height="6.8" fill="none" stroke="#f5d61e" stroke-width="0.45"/>
<rect x="446.24" y="82.03" width="6.8" height="6.8" fill="none" stroke="#f5d61e" stroke-width="0.45"/>
<rect x="446.87" y="79.84" width="6.8" height="6.8" fill="none" stroke="#f5d61e" stroke-width="0.45"/>
<rect x="447.55" y="77.65" width="6.8" height="6.8" fill="none" stroke="#f5d61e" stroke-width="0.45"/>
<rect x="448.31" y="75.46" width="6.8" height="6.8" fill="none" stroke="#f5d61e" stroke-width="0.45"/>
<rect x="449.18" y="73.26" width="6.8" height="6.8" fill="none" stroke="#f5d61e" stroke-width="0.45"/>
<rect x="450.18" y="71.07" width="6.8" height="6.8" fill="none" stroke="#f5d61e" stroke-width="0.45"/>
<rect x="451.35" y="68.88" width="6.8" height="6.8" fill="none" stroke="#f5d61e" stroke-width="0.45"/>
<rect x="452.90" y="66.69" width="6.8" height="6.8" fill="none" stroke="#f5d61e" stroke-width="0.45"/>
<rect x="455.00" y="64.50" width="6.8" height="6.8" fill="none" stroke="#f5d61e" stroke-width="0.45"/>
<rect x="457.60" y="62.31" width="6.8" height="6.8" fill="none" stroke="#f5d61e" stroke-width="0.45"/>
<rect x="460.87" y="60.12" width="6.8" height="6.8" fill="none" stroke="#f5d61e" stroke-width="0.45"/>
<rect x="465.40" y="57.93" width="6.8" height="6.8" fill="none" stroke="#f5d61e" stroke-width="0.45"/>
<rect x="470.90" y="55.74" width="6.8" height="6.8" fill="none" stroke="#f5d61e" stroke-width="0.45"/>
<rect x="478.30" y="53.55" width="6.8" height="6.8" fill="none" stroke="#f5d61e" stroke-width="0.45"/>
<rect x="489.20" y="51.35" width="6.8" height="6.8" fill="none" stroke="#f5d61e" stroke-width="0.45"/>
<rect x="508.20" y="49.16" width="6.8" height="6.8" fill="none" stroke="#f5d61e" stroke-width="0.45"/>
<rect x="545.50" y="46.97" width="6.8" height="6.8" fill="none" stroke="#f5d61e" stroke-width="0.45"/>
<polyline points="448.79,260.71 448.89,258.52 449.01,256.33 449.13,254.14 449.25,251.94 449.38,249.75 449.52,247.56 449.67,245.37 449.82,243.18 449.97,240.99 450.14,238.80 450.32,236.61 450.51,234.42 450.71,232.23 450.91,230.03 451.12,227.84 451.32,225.65 451.53,223.46 451.72,221.27 451.91,219.08 452.10,216.89 452.28,214.70 452.47,212.51 452.65,210.32 452.83,208.12 453.02,205.93 453.21,203.74 453.41,201.55 453.62,199.36 453.83,197.17 454.04,194.98 454.26,192.79 454.48,190.60 454.71,188.41 454.94,186.21 455.20,184.02 455.46,181.83 455.75,179.64 456.06,177.45 456.40,175.26 456.78,173.07 457.20,170.88 457.66,168.69 458.15,166.50 458.66,164.30 459.21,162.11 459.77,159.92 460.34,157.73 460.92,155.54 461.51,153.35 462.11,151.16 462.73,148.97 463.37,146.78 464.03,144.59 464.73,142.39 465.47,140.20 466.24,138.01 467.06,135.82 467.93,133.63 468.86,131.44 469.88,129.25 470.98,127.06 472.17,124.87 473.43,122.68 474.76,120.48 476.15,118.29 477.60,116.10 479.09,113.91 480.63,111.72 482.20,109.53 483.83,107.34 485.55,105.15 487.42,102.96 489.49,100.77 491.80,98.57 494.80,96.38 498.40,94.19 501.90,92.00 506.10,89.81 510.60,87.62 515.30,85.43 521.20,83.24 527.60,81.05 535.10,78.86 544.00,76.66 554.10,74.47 566.20,72.28 580.00,70.09 597.80,67.90 619.60,65.71 647.10,63.52" fill="none" stroke="#111" stroke-width="0.9"/>
<path d="M448.79 257.31L452.19 260.71L448.79 264.11L445.39 260.71Z" fill="none" stroke="#111" stroke-width="1.15"/>
<path d="M448.89 255.12L452.29 258.52L448.89 261.92L445.49 258.52Z" fill="none" stroke="#111" stroke-width="1.15"/>
<path d="M449.01 252.93L452.41 256.33L449.01 259.73L445.61 256.33Z" fill="none" stroke="#111" stroke-width="1.15"/>
<path d="M449.13 250.74L452.53 254.14L449.13 257.54L445.73 254.14Z" fill="none" stroke="#111" stroke-width="1.15"/>
<path d="M449.25 248.54L452.65 251.94L449.25 255.34L445.85 251.94Z" fill="none" stroke="#111" stroke-width="1.15"/>
<path d="M449.38 246.35L452.78 249.75L449.38 253.15L445.98 249.75Z" fill="none" stroke="#111" stroke-width="1.15"/>
<path d="M449.52 244.16L452.92 247.56L449.52 250.96L446.12 247.56Z" fill="none" stroke="#111" stroke-width="1.15"/>
<path d="M449.67 241.97L453.07 245.37L449.67 248.77L446.27 245.37Z" fill="none" stroke="#111" stroke-width="1.15"/>
<path d="M449.82 239.78L453.22 243.18L449.82 246.58L446.42 243.18Z" fill="none" stroke="#111" stroke-width="1.15"/>
<path d="M449.97 237.59L453.37 240.99L449.97 244.39L446.57 240.99Z" fill="none" stroke="#111" stroke-width="1.15"/>
<path d="M450.14 235.40L453.54 238.80L450.14 242.20L446.74 238.80Z" fill="none" stroke="#111" stroke-width="1.15"/>
<path d="M450.32 233.21L453.72 236.61L450.32 240.01L446.92 236.61Z" fill="none" stroke="#111" stroke-width="1.15"/>
<path d="M450.51 231.02L453.91 234.42L450.51 237.82L447.11 234.42Z" fill="none" stroke="#111" stroke-width="1.15"/>
<path d="M450.71 228.83L454.11 232.23L450.71 235.63L447.31 232.23Z" fill="none" stroke="#111" stroke-width="1.15"/>
<path d="M450.91 226.63L454.31 230.03L450.91 233.43L447.51 230.03Z" fill="none" stroke="#111" stroke-width="1.15"/>
<path d="M451.12 224.44L454.52 227.84L451.12 231.24L447.72 227.84Z" fill="none" stroke="#111" stroke-width="1.15"/>
<path d="M451.32 222.25L454.72 225.65L451.32 229.05L447.92 225.65Z" fill="none" stroke="#111" stroke-width="1.15"/>
<path d="M451.53 220.06L454.93 223.46L451.53 226.86L448.13 223.46Z" fill="none" stroke="#111" stroke-width="1.15"/>
<path d="M451.72 217.87L455.12 221.27L451.72 224.67L448.32 221.27Z" fill="none" stroke="#111" stroke-width="1.15"/>
<path d="M451.91 215.68L455.31 219.08L451.91 222.48L448.51 219.08Z" fill="none" stroke="#111" stroke-width="1.15"/>
<path d="M452.10 213.49L455.50 216.89L452.10 220.29L448.70 216.89Z" fill="none" stroke="#111" stroke-width="1.15"/>
<path d="M452.28 211.30L455.68 214.70L452.28 218.10L448.88 214.70Z" fill="none" stroke="#111" stroke-width="1.15"/>
<path d="M452.47 209.11L455.87 212.51L452.47 215.91L449.07 212.51Z" fill="none" stroke="#111" stroke-width="1.15"/>
<path d="M452.65 206.92L456.05 210.32L452.65 213.72L449.25 210.32Z" fill="none" stroke="#111" stroke-width="1.15"/>
<path d="M452.83 204.72L456.23 208.12L452.83 211.52L449.43 208.12Z" fill="none" stroke="#111" stroke-width="1.15"/>
<path d="M453.02 202.53L456.42 205.93L453.02 209.33L449.62 205.93Z" fill="none" stroke="#111" stroke-width="1.15"/>
<path d="M453.21 200.34L456.61 203.74L453.21 207.14L449.81 203.74Z" fill="none" stroke="#111" stroke-width="1.15"/>
<path d="M453.41 198.15L456.81 201.55L453.41 204.95L450.01 201.55Z" fill="none" stroke="#111" stroke-width="1.15"/>
<path d="M453.62 195.96L457.02 199.36L453.62 202.76L450.22 199.36Z" fill="none" stroke="#111" stroke-width="1.15"/>
<path d="M453.83 193.77L457.23 197.17L453.83 200.57L450.43 197.17Z" fill="none" stroke="#111" stroke-width="1.15"/>
<path d="M454.04 191.58L457.44 194.98L454.04 198.38L450.64 194.98Z" fill="none" stroke="#111" stroke-width="1.15"/>
<path d="M454.26 189.39L457.66 192.79L454.26 196.19L450.86 192.79Z" fill="none" stroke="#111" stroke-width="1.15"/>
<path d="M454.48 187.20L457.88 190.60L454.48 194.00L451.08 190.60Z" fill="none" stroke="#111" stroke-width="1.15"/>
<path d="M454.71 185.01L458.11 188.41L454.71 191.81L451.31 188.41Z" fill="none" stroke="#111" stroke-width="1.15"/>
<path d="M454.94 182.81L458.34 186.21L454.94 189.61L451.54 186.21Z" fill="none" stroke="#111" stroke-width="1.15"/>
<path d="M455.20 180.62L458.60 184.02L455.20 187.42L451.80 184.02Z" fill="none" stroke="#111" stroke-width="1.15"/>
<path d="M455.46 178.43L458.86 181.83L455.46 185.23L452.06 181.83Z" fill="none" stroke="#111" stroke-width="1.15"/>
<path d="M455.75 176.24L459.15 179.64L455.75 183.04L452.35 179.64Z" fill="none" stroke="#111" stroke-width="1.15"/>
<path d="M456.06 174.05L459.46 177.45L456.06 180.85L452.66 177.45Z" fill="none" stroke="#111" stroke-width="1.15"/>
<path d="M456.40 171.86L459.80 175.26L456.40 178.66L453.00 175.26Z" fill="none" stroke="#111" stroke-width="1.15"/>
<path d="M456.78 169.67L460.18 173.07L456.78 176.47L453.38 173.07Z" fill="none" stroke="#111" stroke-width="1.15"/>
<path d="M457.20 167.48L460.60 170.88L457.20 174.28L453.80 170.88Z" fill="none" stroke="#111" stroke-width="1.15"/>
<path d="M457.66 165.29L461.06 168.69L457.66 172.09L454.26 168.69Z" fill="none" stroke="#111" stroke-width="1.15"/>
<path d="M458.15 163.10L461.55 166.50L458.15 169.90L454.75 166.50Z" fill="none" stroke="#111" stroke-width="1.15"/>
<path d="M458.66 160.90L462.06 164.30L458.66 167.70L455.26 164.30Z" fill="none" stroke="#111" stroke-width="1.15"/>
<path d="M459.21 158.71L462.61 162.11L459.21 165.51L455.81 162.11Z" fill="none" stroke="#111" stroke-width="1.15"/>
<path d="M459.77 156.52L463.17 159.92L459.77 163.32L456.37 159.92Z" fill="none" stroke="#111" stroke-width="1.15"/>
<path d="M460.34 154.33L463.74 157.73L460.34 161.13L456.94 157.73Z" fill="none" stroke="#111" stroke-width="1.15"/>
<path d="M460.92 152.14L464.32 155.54L460.92 158.94L457.52 155.54Z" fill="none" stroke="#111" stroke-width="1.15"/>
<path d="M461.51 149.95L464.91 153.35L461.51 156.75L458.11 153.35Z" fill="none" stroke="#111" stroke-width="1.15"/>
<path d="M462.11 147.76L465.51 151.16L462.11 154.56L458.71 151.16Z" fill="none" stroke="#111" stroke-width="1.15"/>
<path d="M462.73 145.57L466.13 148.97L462.73 152.37L459.33 148.97Z" fill="none" stroke="#111" stroke-width="1.15"/>
<path d="M463.37 143.38L466.77 146.78L463.37 150.18L459.97 146.78Z" fill="none" stroke="#111" stroke-width="1.15"/>
<path d="M464.03 141.19L467.43 144.59L464.03 147.99L460.63 144.59Z" fill="none" stroke="#111" stroke-width="1.15"/>
<path d="M464.73 138.99L468.13 142.39L464.73 145.79L461.33 142.39Z" fill="none" stroke="#111" stroke-width="1.15"/>
<path d="M465.47 136.80L468.87 140.20L465.47 143.60L462.07 140.20Z" fill="none" stroke="#111" stroke-width="1.15"/>
<path d="M466.24 134.61L469.64 138.01L466.24 141.41L462.84 138.01Z" fill="none" stroke="#111" stroke-width="1.15"/>
<path d="M467.06 132.42L470.46 135.82L467.06 139.22L463.66 135.82Z" fill="none" stroke="#111" stroke-width="1.15"/>
<path d="M467.93 130.23L471.33 133.63L467.93 137.03L464.53 133.63Z" fill="none" stroke="#111" stroke-width="1.15"/>
<path d="M468.86 128.04L472.26 131.44L468.86 134.84L465.46 131.44Z" fill="none" stroke="#111" stroke-width="1.15"/>
<path d="M469.88 125.85L473.28 129.25L469.88 132.65L466.48 129.25Z" fill="none" stroke="#111" stroke-width="1.15"/>
<path d="M470.98 123.66L474.38 127.06L470.98 130.46L467.58 127.06Z" fill="none" stroke="#111" stroke-width="1.15"/>
<path d="M472.17 121.47L475.57 124.87L472.17 128.27L468.77 124.87Z" fill="none" stroke="#111" stroke-width="1.15"/>
<path d="M473.43 119.28L476.83 122.68L473.43 126.08L470.03 122.68Z" fill="none" stroke="#111" stroke-width="1.15"/>
<path d="M474.76 117.08L478.16 120.48L474.76 123.88L471.36 120.48Z" fill="none" stroke="#111" stroke-width="1.15"/>
<path d="M476.15 114.89L479.55 118.29L476.15 121.69L472.75 118.29Z" fill="none" stroke="#111" stroke-width="1.15"/>
<path d="M477.60 112.70L481.00 116.10L477.60 119.50L474.20 116.10Z" fill="none" stroke="#111" stroke-width="1.15"/>
<path d="M479.09 110.51L482.49 113.91L479.09 117.31L475.69 113.91Z" fill="none" stroke="#111" stroke-width="1.15"/>
<path d="M480.63 108.32L484.03 111.72L480.63 115.12L477.23 111.72Z" fill="none" stroke="#111" stroke-width="1.15"/>
<path d="M482.20 106.13L485.60 109.53L482.20 112.93L478.80 109.53Z" fill="none" stroke="#111" stroke-width="1.15"/>
<path d="M483.83 103.94L487.23 107.34L483.83 110.74L480.43 107.34Z" fill="none" stroke="#111" stroke-width="1.15"/>
<path d="M485.55 101.75L488.95 105.15L485.55 108.55L482.15 105.15Z" fill="none" stroke="#111" stroke-width="1.15"/>
<path d="M487.42 99.56L490.82 102.96L487.42 106.36L484.02 102.96Z" fill="none" stroke="#111" stroke-width="1.15"/>
<path d="M489.49 97.37L492.89 100.77L489.49 104.17L486.09 100.77Z" fill="none" stroke="#111" stroke-width="1.15"/>
<path d="M491.80 95.17L495.20 98.57L491.80 101.97L488.40 98.57Z" fill="none" stroke="#111" stroke-width="1.15"/>
<path d="M494.80 92.98L498.20 96.38L494.80 99.78L491.40 96.38Z" fill="none" stroke="#111" stroke-width="1.15"/>
<path d="M498.40 90.79L501.80 94.19L498.40 97.59L495.00 94.19Z" fill="none" stroke="#111" stroke-width="1.15"/>
<path d="M501.90 88.60L505.30 92.00L501.90 95.40L498.50 92.00Z" fill="none" stroke="#111" stroke-width="1.15"/>
<path d="M506.10 86.41L509.50 89.81L506.10 93.21L502.70 89.81Z" fill="none" stroke="#111" stroke-width="1.15"/>
<path d="M510.60 84.22L514.00 87.62L510.60 91.02L507.20 87.62Z" fill="none" stroke="#111" stroke-width="1.15"/>
<path d="M515.30 82.03L518.70 85.43L515.30 88.83L511.90 85.43Z" fill="none" stroke="#111" stroke-width="1.15"/>
<path d="M521.20 79.84L524.60 83.24L521.20 86.64L517.80 83.24Z" fill="none" stroke="#111" stroke-width="1.15"/>
<path d="M527.60 77.65L531.00 81.05L527.60 84.45L524.20 81.05Z" fill="none" stroke="#111" stroke-width="1.15"/>
<path d="M535.10 75.46L538.50 78.86L535.10 82.26L531.70 78.86Z" fill="none" stroke="#111" stroke-width="1.15"/>
<path d="M544.00 73.26L547.40 76.66L544.00 80.06L540.60 76.66Z" fill="none" stroke="#111" stroke-width="1.15"/>
<path d="M554.10 71.07L557.50 74.47L554.10 77.87L550.70 74.47Z" fill="none" stroke="#111" stroke-width="1.15"/>
<path d="M566.20 68.88L569.60 72.28L566.20 75.68L562.80 72.28Z" fill="none" stroke="#111" stroke-width="1.15"/>
<path d="M580.00 66.69L583.40 70.09L580.00 73.49L576.60 70.09Z" fill="none" stroke="#111" stroke-width="1.15"/>
<path d="M597.80 64.50L601.20 67.90L597.80 71.30L594.40 67.90Z" fill="none" stroke="#111" stroke-width="1.15"/>
<path d="M619.60 62.31L623.00 65.71L619.60 69.11L616.20 65.71Z" fill="none" stroke="#111" stroke-width="1.15"/>
<path d="M647.10 60.12L650.50 63.52L647.10 66.92L643.70 63.52Z" fill="none" stroke="#111" stroke-width="1.15"/>
<polyline points="461.33,260.71 461.71,258.52 462.11,256.33 462.50,254.14 462.91,251.94 463.31,249.75 463.73,247.56 464.15,245.37 464.57,243.18 465.00,240.99 465.43,238.80 465.87,236.61 466.32,234.42 466.77,232.23 467.22,230.03 467.69,227.84 468.15,225.65 468.63,223.46 469.11,221.27 469.59,219.08 470.08,216.89 470.58,214.70 471.08,212.51 471.59,210.32 472.11,208.12 472.64,205.93 473.17,203.74 473.72,201.55 474.28,199.36 474.85,197.17 475.42,194.98 476.00,192.79 476.58,190.60 477.18,188.41 477.80,186.21 478.43,184.02 479.09,181.83 479.77,179.64 480.48,177.45 481.23,175.26 482.02,173.07 482.85,170.88 483.73,168.69 484.66,166.50 485.64,164.30 486.70,162.11 487.83,159.92 489.03,157.73 490.29,155.54 491.57,153.35 492.91,151.16 494.33,148.97 495.87,146.78 497.60,144.59 499.53,142.39 501.53,140.20 503.53,138.01 505.47,135.82 507.45,133.63 509.53,131.44 511.79,129.25 514.20,127.06 516.79,124.87 519.61,122.68 522.72,120.48 526.34,118.29 530.35,116.10 534.50,113.91 538.80,111.72 543.30,109.53 548.90,107.34 553.80,105.15 559.30,102.96 565.60,100.77 572.20,98.57 578.90,96.38 587.10,94.19 596.20,92.00 606.00,89.81 616.70,87.62 628.90,85.43 642.20,83.24 657.80,81.05" fill="none" stroke="#2e9dae" stroke-width="0.9"/>
<path d="M461.33 257.06L464.98 260.71L461.33 264.36L457.68 260.71Z" fill="#2e9dae"/>
<path d="M461.71 254.87L465.36 258.52L461.71 262.17L458.06 258.52Z" fill="#2e9dae"/>
<path d="M462.11 252.68L465.76 256.33L462.11 259.98L458.46 256.33Z" fill="#2e9dae"/>
<path d="M462.50 250.49L466.15 254.14L462.50 257.79L458.85 254.14Z" fill="#2e9dae"/>
<path d="M462.91 248.29L466.56 251.94L462.91 255.59L459.26 251.94Z" fill="#2e9dae"/>
<path d="M463.31 246.10L466.96 249.75L463.31 253.40L459.66 249.75Z" fill="#2e9dae"/>
<path d="M463.73 243.91L467.38 247.56L463.73 251.21L460.08 247.56Z" fill="#2e9dae"/>
<path d="M464.15 241.72L467.80 245.37L464.15 249.02L460.50 245.37Z" fill="#2e9dae"/>
<path d="M464.57 239.53L468.22 243.18L464.57 246.83L460.92 243.18Z" fill="#2e9dae"/>
<path d="M465.00 237.34L468.65 240.99L465.00 244.64L461.35 240.99Z" fill="#2e9dae"/>
<path d="M465.43 235.15L469.08 238.80L465.43 242.45L461.78 238.80Z" fill="#2e9dae"/>
<path d="M465.87 232.96L469.52 236.61L465.87 240.26L462.22 236.61Z" fill="#2e9dae"/>
<path d="M466.32 230.77L469.97 234.42L466.32 238.07L462.67 234.42Z" fill="#2e9dae"/>
<path d="M466.77 228.58L470.42 232.23L466.77 235.88L463.12 232.23Z" fill="#2e9dae"/>
<path d="M467.22 226.38L470.87 230.03L467.22 233.68L463.57 230.03Z" fill="#2e9dae"/>
<path d="M467.69 224.19L471.34 227.84L467.69 231.49L464.04 227.84Z" fill="#2e9dae"/>
<path d="M468.15 222.00L471.80 225.65L468.15 229.30L464.50 225.65Z" fill="#2e9dae"/>
<path d="M468.63 219.81L472.28 223.46L468.63 227.11L464.98 223.46Z" fill="#2e9dae"/>
<path d="M469.11 217.62L472.76 221.27L469.11 224.92L465.46 221.27Z" fill="#2e9dae"/>
<path d="M469.59 215.43L473.24 219.08L469.59 222.73L465.94 219.08Z" fill="#2e9dae"/>
<path d="M470.08 213.24L473.73 216.89L470.08 220.54L466.43 216.89Z" fill="#2e9dae"/>
<path d="M470.58 211.05L474.23 214.70L470.58 218.35L466.93 214.70Z" fill="#2e9dae"/>
<path d="M471.08 208.86L474.73 212.51L471.08 216.16L467.43 212.51Z" fill="#2e9dae"/>
<path d="M471.59 206.67L475.24 210.32L471.59 213.97L467.94 210.32Z" fill="#2e9dae"/>
<path d="M472.11 204.47L475.76 208.12L472.11 211.77L468.46 208.12Z" fill="#2e9dae"/>
<path d="M472.64 202.28L476.29 205.93L472.64 209.58L468.99 205.93Z" fill="#2e9dae"/>
<path d="M473.17 200.09L476.82 203.74L473.17 207.39L469.52 203.74Z" fill="#2e9dae"/>
<path d="M473.72 197.90L477.37 201.55L473.72 205.20L470.07 201.55Z" fill="#2e9dae"/>
<path d="M474.28 195.71L477.93 199.36L474.28 203.01L470.63 199.36Z" fill="#2e9dae"/>
<path d="M474.85 193.52L478.50 197.17L474.85 200.82L471.20 197.17Z" fill="#2e9dae"/>
<path d="M475.42 191.33L479.07 194.98L475.42 198.63L471.77 194.98Z" fill="#2e9dae"/>
<path d="M476.00 189.14L479.65 192.79L476.00 196.44L472.35 192.79Z" fill="#2e9dae"/>
<path d="M476.58 186.95L480.23 190.60L476.58 194.25L472.93 190.60Z" fill="#2e9dae"/>
<path d="M477.18 184.76L480.83 188.41L477.18 192.06L473.53 188.41Z" fill="#2e9dae"/>
<path d="M477.80 182.56L481.45 186.21L477.80 189.86L474.15 186.21Z" fill="#2e9dae"/>
<path d="M478.43 180.37L482.08 184.02L478.43 187.67L474.78 184.02Z" fill="#2e9dae"/>
<path d="M479.09 178.18L482.74 181.83L479.09 185.48L475.44 181.83Z" fill="#2e9dae"/>
<path d="M479.77 175.99L483.42 179.64L479.77 183.29L476.12 179.64Z" fill="#2e9dae"/>
<path d="M480.48 173.80L484.13 177.45L480.48 181.10L476.83 177.45Z" fill="#2e9dae"/>
<path d="M481.23 171.61L484.88 175.26L481.23 178.91L477.58 175.26Z" fill="#2e9dae"/>
<path d="M482.02 169.42L485.67 173.07L482.02 176.72L478.37 173.07Z" fill="#2e9dae"/>
<path d="M482.85 167.23L486.50 170.88L482.85 174.53L479.20 170.88Z" fill="#2e9dae"/>
<path d="M483.73 165.04L487.38 168.69L483.73 172.34L480.08 168.69Z" fill="#2e9dae"/>
<path d="M484.66 162.85L488.31 166.50L484.66 170.15L481.01 166.50Z" fill="#2e9dae"/>
<path d="M485.64 160.65L489.29 164.30L485.64 167.95L481.99 164.30Z" fill="#2e9dae"/>
<path d="M486.70 158.46L490.35 162.11L486.70 165.76L483.05 162.11Z" fill="#2e9dae"/>
<path d="M487.83 156.27L491.48 159.92L487.83 163.57L484.18 159.92Z" fill="#2e9dae"/>
<path d="M489.03 154.08L492.68 157.73L489.03 161.38L485.38 157.73Z" fill="#2e9dae"/>
<path d="M490.29 151.89L493.94 155.54L490.29 159.19L486.64 155.54Z" fill="#2e9dae"/>
<path d="M491.57 149.70L495.22 153.35L491.57 157.00L487.92 153.35Z" fill="#2e9dae"/>
<path d="M492.91 147.51L496.56 151.16L492.91 154.81L489.26 151.16Z" fill="#2e9dae"/>
<path d="M494.33 145.32L497.98 148.97L494.33 152.62L490.68 148.97Z" fill="#2e9dae"/>
<path d="M495.87 143.13L499.52 146.78L495.87 150.43L492.22 146.78Z" fill="#2e9dae"/>
<path d="M497.60 140.94L501.25 144.59L497.60 148.24L493.95 144.59Z" fill="#2e9dae"/>
<path d="M499.53 138.74L503.18 142.39L499.53 146.04L495.88 142.39Z" fill="#2e9dae"/>
<path d="M501.53 136.55L505.18 140.20L501.53 143.85L497.88 140.20Z" fill="#2e9dae"/>
<path d="M503.53 134.36L507.18 138.01L503.53 141.66L499.88 138.01Z" fill="#2e9dae"/>
<path d="M505.47 132.17L509.12 135.82L505.47 139.47L501.82 135.82Z" fill="#2e9dae"/>
<path d="M507.45 129.98L511.10 133.63L507.45 137.28L503.80 133.63Z" fill="#2e9dae"/>
<path d="M509.53 127.79L513.18 131.44L509.53 135.09L505.88 131.44Z" fill="#2e9dae"/>
<path d="M511.79 125.60L515.44 129.25L511.79 132.90L508.14 129.25Z" fill="#2e9dae"/>
<path d="M514.20 123.41L517.85 127.06L514.20 130.71L510.55 127.06Z" fill="#2e9dae"/>
<path d="M516.79 121.22L520.44 124.87L516.79 128.52L513.14 124.87Z" fill="#2e9dae"/>
<path d="M519.61 119.03L523.26 122.68L519.61 126.33L515.96 122.68Z" fill="#2e9dae"/>
<path d="M522.72 116.83L526.37 120.48L522.72 124.13L519.07 120.48Z" fill="#2e9dae"/>
<path d="M526.34 114.64L529.99 118.29L526.34 121.94L522.69 118.29Z" fill="#2e9dae"/>
<path d="M530.35 112.45L534.00 116.10L530.35 119.75L526.70 116.10Z" fill="#2e9dae"/>
<path d="M534.50 110.26L538.15 113.91L534.50 117.56L530.85 113.91Z" fill="#2e9dae"/>
<path d="M538.80 108.07L542.45 111.72L538.80 115.37L535.15 111.72Z" fill="#2e9dae"/>
<path d="M543.30 105.88L546.95 109.53L543.30 113.18L539.65 109.53Z" fill="#2e9dae"/>
<path d="M548.90 103.69L552.55 107.34L548.90 110.99L545.25 107.34Z" fill="#2e9dae"/>
<path d="M553.80 101.50L557.45 105.15L553.80 108.80L550.15 105.15Z" fill="#2e9dae"/>
<path d="M559.30 99.31L562.95 102.96L559.30 106.61L555.65 102.96Z" fill="#2e9dae"/>
<path d="M565.60 97.12L569.25 100.77L565.60 104.42L561.95 100.77Z" fill="#2e9dae"/>
<path d="M572.20 94.92L575.85 98.57L572.20 102.22L568.55 98.57Z" fill="#2e9dae"/>
<path d="M578.90 92.73L582.55 96.38L578.90 100.03L575.25 96.38Z" fill="#2e9dae"/>
<path d="M587.10 90.54L590.75 94.19L587.10 97.84L583.45 94.19Z" fill="#2e9dae"/>
<path d="M596.20 88.35L599.85 92.00L596.20 95.65L592.55 92.00Z" fill="#2e9dae"/>
<path d="M606.00 86.16L609.65 89.81L606.00 93.46L602.35 89.81Z" fill="#2e9dae"/>
<path d="M616.70 83.97L620.35 87.62L616.70 91.27L613.05 87.62Z" fill="#2e9dae"/>
<path d="M628.90 81.78L632.55 85.43L628.90 89.08L625.25 85.43Z" fill="#2e9dae"/>
<path d="M642.20 79.59L645.85 83.24L642.20 86.89L638.55 83.24Z" fill="#2e9dae"/>
<path d="M657.80 77.40L661.45 81.05L657.80 84.70L654.15 81.05Z" fill="#2e9dae"/>
<polyline points="493.33,260.71 494.07,258.52 494.83,256.33 495.60,254.14 496.39,251.94 497.20,249.75 498.03,247.56 498.87,245.37 499.73,243.18 500.60,240.99 501.48,238.80 502.37,236.61 503.27,234.42 504.20,232.23 505.14,230.03 506.11,227.84 507.12,225.65 508.17,223.46 509.25,221.27 510.39,219.08 511.57,216.89 512.80,214.70 514.08,212.51 515.41,210.32 516.78,208.12 518.21,205.93 519.68,203.74 521.20,201.55 522.77,199.36 524.39,197.17 526.08,194.98 527.83,192.79 529.64,190.60 531.53,188.41 533.49,186.21 535.53,184.02 537.64,181.83 539.82,179.64 542.09,177.45 544.45,175.26 546.92,173.07 549.52,170.88 552.23,168.69 555.05,166.50 557.98,164.30 561.01,162.11 564.14,159.92 567.37,157.73 570.69,155.54 574.14,153.35 577.92,151.16 581.92,148.97 586.00,146.78 590.15,144.59 594.50,142.39 599.13,140.20 604.00,138.01 609.07,135.82 614.40,133.63 620.07,131.44 626.00,129.25 632.01,127.06 638.40,124.87 645.70,122.68 653.10,120.48" fill="none" stroke="#e3212b" stroke-width="0.7"/>
<circle cx="493.33" cy="260.71" r="3.75" fill="none" stroke="#e3212b" stroke-width="1.0"/>
<circle cx="494.07" cy="258.52" r="3.75" fill="none" stroke="#e3212b" stroke-width="1.0"/>
<circle cx="494.83" cy="256.33" r="3.75" fill="none" stroke="#e3212b" stroke-width="1.0"/>
<circle cx="495.60" cy="254.14" r="3.75" fill="none" stroke="#e3212b" stroke-width="1.0"/>
<circle cx="496.39" cy="251.94" r="3.75" fill="none" stroke="#e3212b" stroke-width="1.0"/>
<circle cx="497.20" cy="249.75" r="3.75" fill="none" stroke="#e3212b" stroke-width="1.0"/>
<circle cx="498.03" cy="247.56" r="3.75" fill="none" stroke="#e3212b" stroke-width="1.0"/>
<circle cx="498.87" cy="245.37" r="3.75" fill="none" stroke="#e3212b" stroke-width="1.0"/>
<circle cx="499.73" cy="243.18" r="3.75" fill="none" stroke="#e3212b" stroke-width="1.0"/>
<circle cx="500.60" cy="240.99" r="3.75" fill="none" stroke="#e3212b" stroke-width="1.0"/>
<circle cx="501.48" cy="238.80" r="3.75" fill="none" stroke="#e3212b" stroke-width="1.0"/>
<circle cx="502.37" cy="236.61" r="3.75" fill="none" stroke="#e3212b" stroke-width="1.0"/>
<circle cx="503.27" cy="234.42" r="3.75" fill="none" stroke="#e3212b" stroke-width="1.0"/>
<circle cx="504.20" cy="232.23" r="3.75" fill="none" stroke="#e3212b" stroke-width="1.0"/>
<circle cx="505.14" cy="230.03" r="3.75" fill="none" stroke="#e3212b" stroke-width="1.0"/>
<circle cx="506.11" cy="227.84" r="3.75" fill="none" stroke="#e3212b" stroke-width="1.0"/>
<circle cx="507.12" cy="225.65" r="3.75" fill="none" stroke="#e3212b" stroke-width="1.0"/>
<circle cx="508.17" cy="223.46" r="3.75" fill="none" stroke="#e3212b" stroke-width="1.0"/>
<circle cx="509.25" cy="221.27" r="3.75" fill="none" stroke="#e3212b" stroke-width="1.0"/>
<circle cx="510.39" cy="219.08" r="3.75" fill="none" stroke="#e3212b" stroke-width="1.0"/>
<circle cx="511.57" cy="216.89" r="3.75" fill="none" stroke="#e3212b" stroke-width="1.0"/>
<circle cx="512.80" cy="214.70" r="3.75" fill="none" stroke="#e3212b" stroke-width="1.0"/>
<circle cx="514.08" cy="212.51" r="3.75" fill="none" stroke="#e3212b" stroke-width="1.0"/>
<circle cx="515.41" cy="210.32" r="3.75" fill="none" stroke="#e3212b" stroke-width="1.0"/>
<circle cx="516.78" cy="208.12" r="3.75" fill="none" stroke="#e3212b" stroke-width="1.0"/>
<circle cx="518.21" cy="205.93" r="3.75" fill="none" stroke="#e3212b" stroke-width="1.0"/>
<circle cx="519.68" cy="203.74" r="3.75" fill="none" stroke="#e3212b" stroke-width="1.0"/>
<circle cx="521.20" cy="201.55" r="3.75" fill="none" stroke="#e3212b" stroke-width="1.0"/>
<circle cx="522.77" cy="199.36" r="3.75" fill="none" stroke="#e3212b" stroke-width="1.0"/>
<circle cx="524.39" cy="197.17" r="3.75" fill="none" stroke="#e3212b" stroke-width="1.0"/>
<circle cx="526.08" cy="194.98" r="3.75" fill="none" stroke="#e3212b" stroke-width="1.0"/>
<circle cx="527.83" cy="192.79" r="3.75" fill="none" stroke="#e3212b" stroke-width="1.0"/>
<circle cx="529.64" cy="190.60" r="3.75" fill="none" stroke="#e3212b" stroke-width="1.0"/>
<circle cx="531.53" cy="188.41" r="3.75" fill="none" stroke="#e3212b" stroke-width="1.0"/>
<circle cx="533.49" cy="186.21" r="3.75" fill="none" stroke="#e3212b" stroke-width="1.0"/>
<circle cx="535.53" cy="184.02" r="3.75" fill="none" stroke="#e3212b" stroke-width="1.0"/>
<circle cx="537.64" cy="181.83" r="3.75" fill="none" stroke="#e3212b" stroke-width="1.0"/>
<circle cx="539.82" cy="179.64" r="3.75" fill="none" stroke="#e3212b" stroke-width="1.0"/>
<circle cx="542.09" cy="177.45" r="3.75" fill="none" stroke="#e3212b" stroke-width="1.0"/>
<circle cx="544.45" cy="175.26" r="3.75" fill="none" stroke="#e3212b" stroke-width="1.0"/>
<circle cx="546.92" cy="173.07" r="3.75" fill="none" stroke="#e3212b" stroke-width="1.0"/>
<circle cx="549.52" cy="170.88" r="3.75" fill="none" stroke="#e3212b" stroke-width="1.0"/>
<circle cx="552.23" cy="168.69" r="3.75" fill="none" stroke="#e3212b" stroke-width="1.0"/>
<circle cx="555.05" cy="166.50" r="3.75" fill="none" stroke="#e3212b" stroke-width="1.0"/>
<circle cx="557.98" cy="164.30" r="3.75" fill="none" stroke="#e3212b" stroke-width="1.0"/>
<circle cx="561.01" cy="162.11" r="3.75" fill="none" stroke="#e3212b" stroke-width="1.0"/>
<circle cx="564.14" cy="159.92" r="3.75" fill="none" stroke="#e3212b" stroke-width="1.0"/>
<circle cx="567.37" cy="157.73" r="3.75" fill="none" stroke="#e3212b" stroke-width="1.0"/>
<circle cx="570.69" cy="155.54" r="3.75" fill="none" stroke="#e3212b" stroke-width="1.0"/>
<circle cx="574.14" cy="153.35" r="3.75" fill="none" stroke="#e3212b" stroke-width="1.0"/>
<circle cx="577.92" cy="151.16" r="3.75" fill="none" stroke="#e3212b" stroke-width="1.0"/>
<circle cx="581.92" cy="148.97" r="3.75" fill="none" stroke="#e3212b" stroke-width="1.0"/>
<circle cx="586.00" cy="146.78" r="3.75" fill="none" stroke="#e3212b" stroke-width="1.0"/>
<circle cx="590.15" cy="144.59" r="3.75" fill="none" stroke="#e3212b" stroke-width="1.0"/>
<circle cx="594.50" cy="142.39" r="3.75" fill="none" stroke="#e3212b" stroke-width="1.0"/>
<circle cx="599.13" cy="140.20" r="3.75" fill="none" stroke="#e3212b" stroke-width="1.0"/>
<circle cx="604.00" cy="138.01" r="3.75" fill="none" stroke="#e3212b" stroke-width="1.0"/>
<circle cx="609.07" cy="135.82" r="3.75" fill="none" stroke="#e3212b" stroke-width="1.0"/>
<circle cx="614.40" cy="133.63" r="3.75" fill="none" stroke="#e3212b" stroke-width="1.0"/>
<circle cx="620.07" cy="131.44" r="3.75" fill="none" stroke="#e3212b" stroke-width="1.0"/>
<circle cx="626.00" cy="129.25" r="3.75" fill="none" stroke="#e3212b" stroke-width="1.0"/>
<circle cx="632.01" cy="127.06" r="3.75" fill="none" stroke="#e3212b" stroke-width="1.0"/>
<circle cx="638.40" cy="124.87" r="3.75" fill="none" stroke="#e3212b" stroke-width="1.0"/>
<circle cx="645.70" cy="122.68" r="3.75" fill="none" stroke="#e3212b" stroke-width="1.0"/>
<circle cx="653.10" cy="120.48" r="3.75" fill="none" stroke="#e3212b" stroke-width="1.0"/>
<text transform="matrix(0.10916 0 0 0.12535 411.363 268.125)" font-family="Liberation Sans" font-style="normal" font-weight="normal" font-size="100" fill="#111">0.0</text>
<text transform="matrix(0.11000 0 0 0.12535 411.360 224.325)" font-family="Liberation Sans" font-style="normal" font-weight="normal" font-size="100" fill="#111">0.2</text>
<text transform="matrix(0.10833 0 0 0.12535 411.367 180.525)" font-family="Liberation Sans" font-style="normal" font-weight="normal" font-size="100" fill="#111">0.4</text>
<text transform="matrix(0.10916 0 0 0.12535 411.363 136.725)" font-family="Liberation Sans" font-style="normal" font-weight="normal" font-size="100" fill="#111">0.6</text>
<text transform="matrix(0.10916 0 0 0.12535 411.363 92.925)" font-family="Liberation Sans" font-style="normal" font-weight="normal" font-size="100" fill="#111">0.8</text>
<text transform="matrix(0.10945 0 0 0.12535 411.324 49.075)" font-family="Liberation Sans" font-style="normal" font-weight="normal" font-size="100" fill="#111">1.0</text>
<text transform="matrix(0.10992 0 0 0.12254 426.460 281.677)" font-family="Liberation Sans" font-style="normal" font-weight="normal" font-size="100" fill="#111">0.0</text>
<text transform="matrix(0.11000 0 0 0.12254 470.760 281.677)" font-family="Liberation Sans" font-style="normal" font-weight="normal" font-size="100" fill="#111">0.2</text>
<text transform="matrix(0.10833 0 0 0.12254 515.667 281.677)" font-family="Liberation Sans" font-style="normal" font-weight="normal" font-size="100" fill="#111">0.4</text>
<text transform="matrix(0.10916 0 0 0.12254 560.663 281.677)" font-family="Liberation Sans" font-style="normal" font-weight="normal" font-size="100" fill="#111">0.6</text>
<text transform="matrix(0.10916 0 0 0.12254 605.163 281.677)" font-family="Liberation Sans" font-style="normal" font-weight="normal" font-size="100" fill="#111">0.8</text>
<text transform="matrix(0.10551 0 0 0.12254 650.156 281.677)" font-family="Liberation Sans" font-style="normal" font-weight="normal" font-size="100" fill="#111">1.0</text>
<text transform="matrix(0.09701 0 0 0.16620 537.618 294.734)" font-family="Liberation Sans" font-style="italic" font-weight="normal" font-size="100" fill="#111" stroke="#111" stroke-width="0.45" vector-effect="non-scaling-stroke">C</text>
<text transform="matrix(0.10870 0 0 0.13478 545.474 297.100)" font-family="Liberation Sans" font-style="italic" font-weight="normal" font-size="100" fill="#111" stroke="#111" stroke-width="0.45" vector-effect="non-scaling-stroke">H</text>
<text transform="matrix(0.11149 0 0 0.10857 412.508 334.091)" font-family="Liberation Sans" font-style="normal" font-weight="normal" font-size="100" fill="#111">N=5</text>
<text transform="matrix(0.10826 0 0 0.10704 465.834 334.093)" font-family="Liberation Sans" font-style="normal" font-weight="normal" font-size="100" fill="#111">N=10</text>
<text transform="matrix(0.11304 0 0 0.10704 522.396 334.093)" font-family="Liberation Sans" font-style="normal" font-weight="normal" font-size="100" fill="#111">N=20</text>
<text transform="matrix(0.11130 0 0 0.10704 583.710 334.093)" font-family="Liberation Sans" font-style="normal" font-weight="normal" font-size="100" fill="#111">N=50</text>
<text transform="matrix(0.10807 0 0 0.10704 642.235 334.093)" font-family="Liberation Sans" font-style="normal" font-weight="normal" font-size="100" fill="#111">N=100</text>
<text transform="matrix(0 -0.12885 0.15342 0 398.300 166.858)" font-family="Liberation Sans" font-style="italic" font-weight="normal" font-size="100" fill="#111" stroke="#111" stroke-width="0.3" vector-effect="non-scaling-stroke">k</text>
<text transform="matrix(0 -0.08000 0.08000 0 393.420 159.160)" font-family="Liberation Sans" font-style="normal" font-weight="normal" font-size="100" fill="#555">*</text>
<text transform="matrix(0 -0.14433 0.14658 0 398.300 154.478)" font-family="Liberation Sans" font-style="italic" font-weight="normal" font-size="100" fill="#111" stroke="#111" stroke-width="0.3" vector-effect="non-scaling-stroke">/Z</text>
<rect x="392.8" y="316.0" width="277.2" height="1.1" fill="#4d4d4d"/>
<circle cx="401.9" cy="330.5" r="6.6" fill="none" stroke="#e3212b" stroke-width="1.7"/>
<path d="M454.90 323.70L461.90 330.70L454.90 337.70L447.90 330.70Z" fill="#2e9dae"/>
<path d="M513.20 323.30L519.80 329.90L513.20 336.50L506.60 329.90Z" fill="none" stroke="#111" stroke-width="1.1"/>
<rect x="566.0" y="323.0" width="14.3" height="14.0" fill="#2ab4e8"/>
<rect x="625.7" y="323.2" width="13.1" height="13.0" fill="none" stroke="#f5d61e" stroke-width="2"/></svg></body></html>
